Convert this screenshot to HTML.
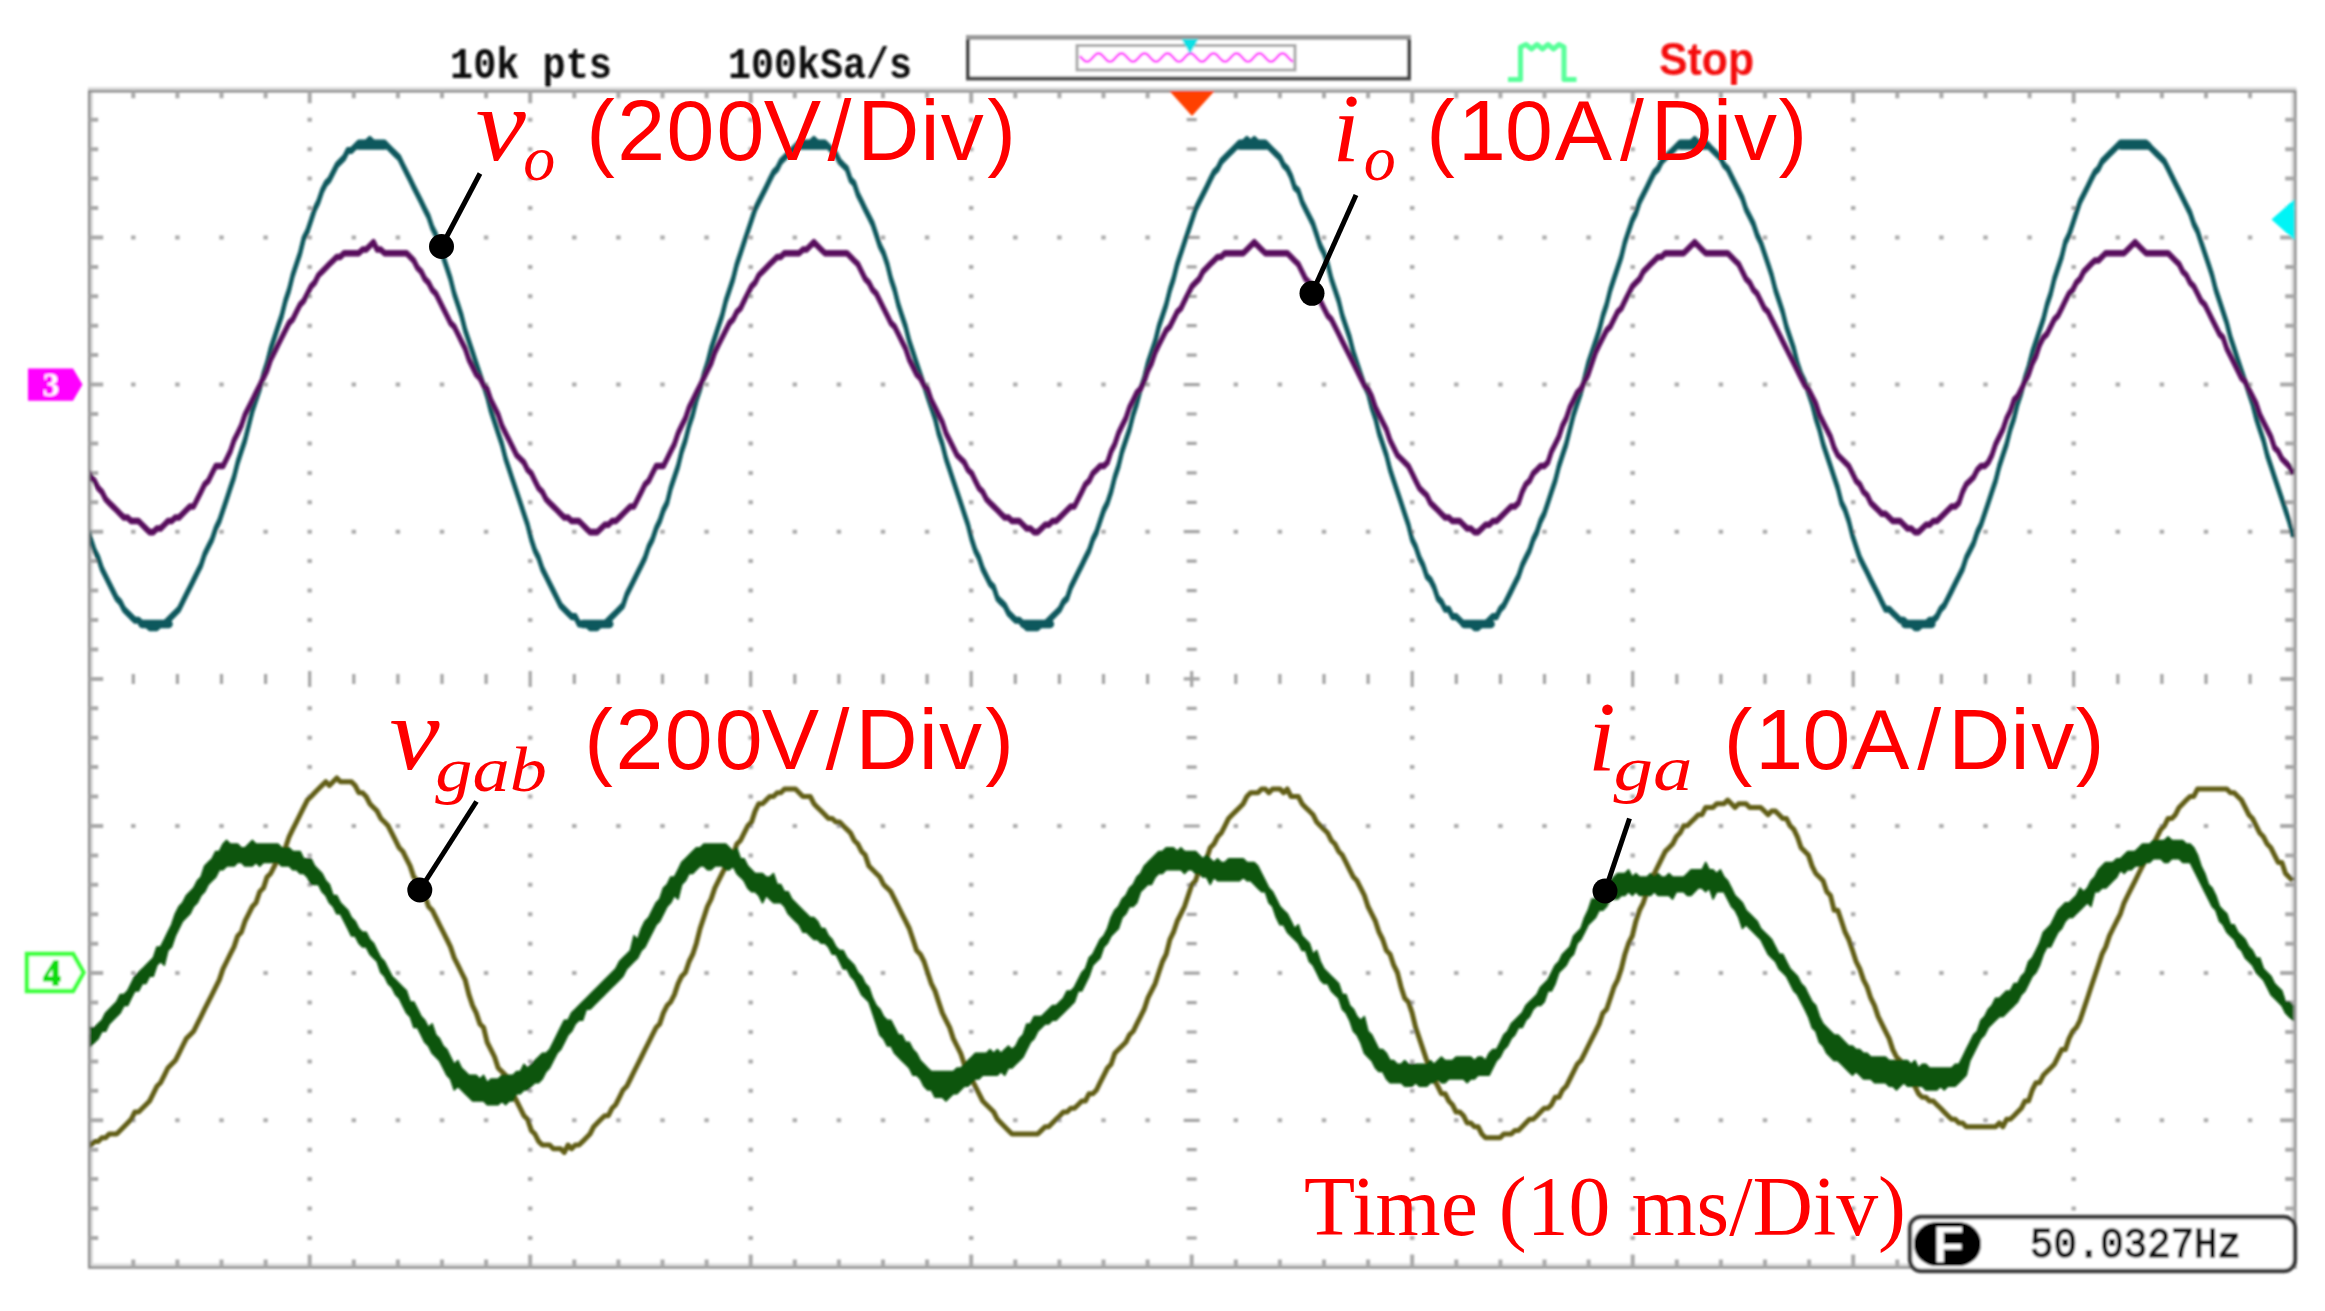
<!DOCTYPE html>
<html><head><meta charset="utf-8"><title>Scope capture</title>
<style>html,body{margin:0;padding:0;background:#fff}svg{display:block}.sans{font-family:"Liberation Sans",sans-serif}.ser{font-family:"Liberation Serif",serif}.mono{font-family:"Liberation Mono",monospace}</style></head><body>
<svg width="2325" height="1311" viewBox="0 0 2325 1311">
<defs><clipPath id="plot"><rect x="90.2" y="91.3" width="2204" height="1176.1"/></clipPath><filter id="soft" x="0" y="0" width="100%" height="100%" filterUnits="userSpaceOnUse"><feGaussianBlur stdDeviation="0.9"/></filter></defs>
<rect width="100%" height="100%" fill="#fff"/>
<g id="scope" filter="url(#soft)">
<g id="grid"><path d="M91.6 91.3V1267.5M2292.8 91.3V1267.5M89.2 1264.8H2295.3M88 88.6H2296.5" fill="none" stroke="#dadada" stroke-width="2.8"/>
<rect x="89.2" y="91.3" width="2206.1" height="1176.2" fill="none" stroke="#8d8d8d" stroke-width="2.5"/>
<path d="M133.3 91.3v7M133.3 1267.4v-8M177.4 91.3v7M177.4 1267.4v-8M221.5 91.3v7M221.5 1267.4v-8M265.6 91.3v7M265.6 1267.4v-8M309.7 91.3v12M309.7 1267.4v-13M353.8 91.3v7M353.8 1267.4v-8M397.9 91.3v7M397.9 1267.4v-8M442 91.3v7M442 1267.4v-8M486.1 91.3v7M486.1 1267.4v-8M530.2 91.3v12M530.2 1267.4v-13M574.3 91.3v7M574.3 1267.4v-8M618.4 91.3v7M618.4 1267.4v-8M662.5 91.3v7M662.5 1267.4v-8M706.6 91.3v7M706.6 1267.4v-8M750.7 91.3v12M750.7 1267.4v-13M794.8 91.3v7M794.8 1267.4v-8M838.9 91.3v7M838.9 1267.4v-8M883 91.3v7M883 1267.4v-8M927.1 91.3v7M927.1 1267.4v-8M971.2 91.3v12M971.2 1267.4v-13M1015.3 91.3v7M1015.3 1267.4v-8M1059.4 91.3v7M1059.4 1267.4v-8M1103.5 91.3v7M1103.5 1267.4v-8M1147.6 91.3v7M1147.6 1267.4v-8M1191.7 91.3v12M1191.7 1267.4v-13M1235.8 91.3v7M1235.8 1267.4v-8M1279.9 91.3v7M1279.9 1267.4v-8M1324 91.3v7M1324 1267.4v-8M1368.1 91.3v7M1368.1 1267.4v-8M1412.2 91.3v12M1412.2 1267.4v-13M1456.3 91.3v7M1456.3 1267.4v-8M1500.4 91.3v7M1500.4 1267.4v-8M1544.5 91.3v7M1544.5 1267.4v-8M1588.6 91.3v7M1588.6 1267.4v-8M1632.7 91.3v12M1632.7 1267.4v-13M1676.8 91.3v7M1676.8 1267.4v-8M1720.9 91.3v7M1720.9 1267.4v-8M1765 91.3v7M1765 1267.4v-8M1809.1 91.3v7M1809.1 1267.4v-8M1853.2 91.3v12M1853.2 1267.4v-13M1897.3 91.3v7M1897.3 1267.4v-8M1941.4 91.3v7M1941.4 1267.4v-8M1985.5 91.3v7M1985.5 1267.4v-8M2029.6 91.3v7M2029.6 1267.4v-8M2073.7 91.3v12M2073.7 1267.4v-13M2117.8 91.3v7M2117.8 1267.4v-8M2161.9 91.3v7M2161.9 1267.4v-8M2206 91.3v7M2206 1267.4v-8M2250.1 91.3v7M2250.1 1267.4v-8M89.2 119.7h9M2295.2 119.7h-10M89.2 149.2h9M2295.2 149.2h-10M89.2 178.6h9M2295.2 178.6h-10M89.2 208h9M2295.2 208h-10M89.2 237.4h14M2295.2 237.4h-15M89.2 266.9h9M2295.2 266.9h-10M89.2 296.3h9M2295.2 296.3h-10M89.2 325.7h9M2295.2 325.7h-10M89.2 355.1h9M2295.2 355.1h-10M89.2 384.6h14M2295.2 384.6h-15M89.2 414h9M2295.2 414h-10M89.2 443.4h9M2295.2 443.4h-10M89.2 472.9h9M2295.2 472.9h-10M89.2 502.3h9M2295.2 502.3h-10M89.2 531.7h14M2295.2 531.7h-15M89.2 561.1h9M2295.2 561.1h-10M89.2 590.6h9M2295.2 590.6h-10M89.2 620h9M2295.2 620h-10M89.2 649.4h9M2295.2 649.4h-10M89.2 678.9h14M2295.2 678.9h-15M89.2 708.3h9M2295.2 708.3h-10M89.2 737.7h9M2295.2 737.7h-10M89.2 767.1h9M2295.2 767.1h-10M89.2 796.6h9M2295.2 796.6h-10M89.2 826h14M2295.2 826h-15M89.2 855.4h9M2295.2 855.4h-10M89.2 884.8h9M2295.2 884.8h-10M89.2 914.3h9M2295.2 914.3h-10M89.2 943.7h9M2295.2 943.7h-10M89.2 973.1h14M2295.2 973.1h-15M89.2 1002.6h9M2295.2 1002.6h-10M89.2 1032h9M2295.2 1032h-10M89.2 1061.4h9M2295.2 1061.4h-10M89.2 1090.8h9M2295.2 1090.8h-10M89.2 1120.3h14M2295.2 1120.3h-15M89.2 1149.7h9M2295.2 1149.7h-10M89.2 1179.1h9M2295.2 1179.1h-10M89.2 1208.5h9M2295.2 1208.5h-10M89.2 1238h9M2295.2 1238h-10" stroke="#a9a9a9" stroke-width="4" fill="none"/>
<path d="M307.5 119.7h4.4M307.5 149.2h4.4M307.5 178.6h4.4M307.5 208h4.4M307.5 237.4h4.4M307.5 266.9h4.4M307.5 296.3h4.4M307.5 325.7h4.4M307.5 355.1h4.4M307.5 384.6h4.4M307.5 414h4.4M307.5 443.4h4.4M307.5 472.9h4.4M307.5 502.3h4.4M307.5 531.7h4.4M307.5 561.1h4.4M307.5 590.6h4.4M307.5 620h4.4M307.5 649.4h4.4M307.5 708.3h4.4M307.5 737.7h4.4M307.5 767.1h4.4M307.5 796.6h4.4M307.5 826h4.4M307.5 855.4h4.4M307.5 884.8h4.4M307.5 914.3h4.4M307.5 943.7h4.4M307.5 973.1h4.4M307.5 1002.6h4.4M307.5 1032h4.4M307.5 1061.4h4.4M307.5 1090.8h4.4M307.5 1120.3h4.4M307.5 1149.7h4.4M307.5 1179.1h4.4M307.5 1208.5h4.4M307.5 1238h4.4M528 119.7h4.4M528 149.2h4.4M528 178.6h4.4M528 208h4.4M528 237.4h4.4M528 266.9h4.4M528 296.3h4.4M528 325.7h4.4M528 355.1h4.4M528 384.6h4.4M528 414h4.4M528 443.4h4.4M528 472.9h4.4M528 502.3h4.4M528 531.7h4.4M528 561.1h4.4M528 590.6h4.4M528 620h4.4M528 649.4h4.4M528 708.3h4.4M528 737.7h4.4M528 767.1h4.4M528 796.6h4.4M528 826h4.4M528 855.4h4.4M528 884.8h4.4M528 914.3h4.4M528 943.7h4.4M528 973.1h4.4M528 1002.6h4.4M528 1032h4.4M528 1061.4h4.4M528 1090.8h4.4M528 1120.3h4.4M528 1149.7h4.4M528 1179.1h4.4M528 1208.5h4.4M528 1238h4.4M748.5 119.7h4.4M748.5 149.2h4.4M748.5 178.6h4.4M748.5 208h4.4M748.5 237.4h4.4M748.5 266.9h4.4M748.5 296.3h4.4M748.5 325.7h4.4M748.5 355.1h4.4M748.5 384.6h4.4M748.5 414h4.4M748.5 443.4h4.4M748.5 472.9h4.4M748.5 502.3h4.4M748.5 531.7h4.4M748.5 561.1h4.4M748.5 590.6h4.4M748.5 620h4.4M748.5 649.4h4.4M748.5 708.3h4.4M748.5 737.7h4.4M748.5 767.1h4.4M748.5 796.6h4.4M748.5 826h4.4M748.5 855.4h4.4M748.5 884.8h4.4M748.5 914.3h4.4M748.5 943.7h4.4M748.5 973.1h4.4M748.5 1002.6h4.4M748.5 1032h4.4M748.5 1061.4h4.4M748.5 1090.8h4.4M748.5 1120.3h4.4M748.5 1149.7h4.4M748.5 1179.1h4.4M748.5 1208.5h4.4M748.5 1238h4.4M969 119.7h4.4M969 149.2h4.4M969 178.6h4.4M969 208h4.4M969 237.4h4.4M969 266.9h4.4M969 296.3h4.4M969 325.7h4.4M969 355.1h4.4M969 384.6h4.4M969 414h4.4M969 443.4h4.4M969 472.9h4.4M969 502.3h4.4M969 531.7h4.4M969 561.1h4.4M969 590.6h4.4M969 620h4.4M969 649.4h4.4M969 708.3h4.4M969 737.7h4.4M969 767.1h4.4M969 796.6h4.4M969 826h4.4M969 855.4h4.4M969 884.8h4.4M969 914.3h4.4M969 943.7h4.4M969 973.1h4.4M969 1002.6h4.4M969 1032h4.4M969 1061.4h4.4M969 1090.8h4.4M969 1120.3h4.4M969 1149.7h4.4M969 1179.1h4.4M969 1208.5h4.4M969 1238h4.4M1410 119.7h4.4M1410 149.2h4.4M1410 178.6h4.4M1410 208h4.4M1410 237.4h4.4M1410 266.9h4.4M1410 296.3h4.4M1410 325.7h4.4M1410 355.1h4.4M1410 384.6h4.4M1410 414h4.4M1410 443.4h4.4M1410 472.9h4.4M1410 502.3h4.4M1410 531.7h4.4M1410 561.1h4.4M1410 590.6h4.4M1410 620h4.4M1410 649.4h4.4M1410 708.3h4.4M1410 737.7h4.4M1410 767.1h4.4M1410 796.6h4.4M1410 826h4.4M1410 855.4h4.4M1410 884.8h4.4M1410 914.3h4.4M1410 943.7h4.4M1410 973.1h4.4M1410 1002.6h4.4M1410 1032h4.4M1410 1061.4h4.4M1410 1090.8h4.4M1410 1120.3h4.4M1410 1149.7h4.4M1410 1179.1h4.4M1410 1208.5h4.4M1410 1238h4.4M1630.5 119.7h4.4M1630.5 149.2h4.4M1630.5 178.6h4.4M1630.5 208h4.4M1630.5 237.4h4.4M1630.5 266.9h4.4M1630.5 296.3h4.4M1630.5 325.7h4.4M1630.5 355.1h4.4M1630.5 384.6h4.4M1630.5 414h4.4M1630.5 443.4h4.4M1630.5 472.9h4.4M1630.5 502.3h4.4M1630.5 531.7h4.4M1630.5 561.1h4.4M1630.5 590.6h4.4M1630.5 620h4.4M1630.5 649.4h4.4M1630.5 708.3h4.4M1630.5 737.7h4.4M1630.5 767.1h4.4M1630.5 796.6h4.4M1630.5 826h4.4M1630.5 855.4h4.4M1630.5 884.8h4.4M1630.5 914.3h4.4M1630.5 943.7h4.4M1630.5 973.1h4.4M1630.5 1002.6h4.4M1630.5 1032h4.4M1630.5 1061.4h4.4M1630.5 1090.8h4.4M1630.5 1120.3h4.4M1630.5 1149.7h4.4M1630.5 1179.1h4.4M1630.5 1208.5h4.4M1630.5 1238h4.4M1851 119.7h4.4M1851 149.2h4.4M1851 178.6h4.4M1851 208h4.4M1851 237.4h4.4M1851 266.9h4.4M1851 296.3h4.4M1851 325.7h4.4M1851 355.1h4.4M1851 384.6h4.4M1851 414h4.4M1851 443.4h4.4M1851 472.9h4.4M1851 502.3h4.4M1851 531.7h4.4M1851 561.1h4.4M1851 590.6h4.4M1851 620h4.4M1851 649.4h4.4M1851 708.3h4.4M1851 737.7h4.4M1851 767.1h4.4M1851 796.6h4.4M1851 826h4.4M1851 855.4h4.4M1851 884.8h4.4M1851 914.3h4.4M1851 943.7h4.4M1851 973.1h4.4M1851 1002.6h4.4M1851 1032h4.4M1851 1061.4h4.4M1851 1090.8h4.4M1851 1120.3h4.4M1851 1149.7h4.4M1851 1179.1h4.4M1851 1208.5h4.4M1851 1238h4.4M2071.5 119.7h4.4M2071.5 149.2h4.4M2071.5 178.6h4.4M2071.5 208h4.4M2071.5 237.4h4.4M2071.5 266.9h4.4M2071.5 296.3h4.4M2071.5 325.7h4.4M2071.5 355.1h4.4M2071.5 384.6h4.4M2071.5 414h4.4M2071.5 443.4h4.4M2071.5 472.9h4.4M2071.5 502.3h4.4M2071.5 531.7h4.4M2071.5 561.1h4.4M2071.5 590.6h4.4M2071.5 620h4.4M2071.5 649.4h4.4M2071.5 708.3h4.4M2071.5 737.7h4.4M2071.5 767.1h4.4M2071.5 796.6h4.4M2071.5 826h4.4M2071.5 855.4h4.4M2071.5 884.8h4.4M2071.5 914.3h4.4M2071.5 943.7h4.4M2071.5 973.1h4.4M2071.5 1002.6h4.4M2071.5 1032h4.4M2071.5 1061.4h4.4M2071.5 1090.8h4.4M2071.5 1120.3h4.4M2071.5 1149.7h4.4M2071.5 1179.1h4.4M2071.5 1208.5h4.4M2071.5 1238h4.4M131.1 237.4h4.4M175.2 237.4h4.4M219.3 237.4h4.4M263.4 237.4h4.4M351.6 237.4h4.4M395.7 237.4h4.4M439.8 237.4h4.4M483.9 237.4h4.4M572.1 237.4h4.4M616.2 237.4h4.4M660.3 237.4h4.4M704.4 237.4h4.4M792.6 237.4h4.4M836.7 237.4h4.4M880.8 237.4h4.4M924.9 237.4h4.4M1013.1 237.4h4.4M1057.2 237.4h4.4M1101.3 237.4h4.4M1145.4 237.4h4.4M1233.6 237.4h4.4M1277.7 237.4h4.4M1321.8 237.4h4.4M1365.9 237.4h4.4M1454.1 237.4h4.4M1498.2 237.4h4.4M1542.3 237.4h4.4M1586.4 237.4h4.4M1674.6 237.4h4.4M1718.7 237.4h4.4M1762.8 237.4h4.4M1806.9 237.4h4.4M1895.1 237.4h4.4M1939.2 237.4h4.4M1983.3 237.4h4.4M2027.4 237.4h4.4M2115.6 237.4h4.4M2159.7 237.4h4.4M2203.8 237.4h4.4M2247.9 237.4h4.4M131.1 384.6h4.4M175.2 384.6h4.4M219.3 384.6h4.4M263.4 384.6h4.4M351.6 384.6h4.4M395.7 384.6h4.4M439.8 384.6h4.4M483.9 384.6h4.4M572.1 384.6h4.4M616.2 384.6h4.4M660.3 384.6h4.4M704.4 384.6h4.4M792.6 384.6h4.4M836.7 384.6h4.4M880.8 384.6h4.4M924.9 384.6h4.4M1013.1 384.6h4.4M1057.2 384.6h4.4M1101.3 384.6h4.4M1145.4 384.6h4.4M1233.6 384.6h4.4M1277.7 384.6h4.4M1321.8 384.6h4.4M1365.9 384.6h4.4M1454.1 384.6h4.4M1498.2 384.6h4.4M1542.3 384.6h4.4M1586.4 384.6h4.4M1674.6 384.6h4.4M1718.7 384.6h4.4M1762.8 384.6h4.4M1806.9 384.6h4.4M1895.1 384.6h4.4M1939.2 384.6h4.4M1983.3 384.6h4.4M2027.4 384.6h4.4M2115.6 384.6h4.4M2159.7 384.6h4.4M2203.8 384.6h4.4M2247.9 384.6h4.4M131.1 531.7h4.4M175.2 531.7h4.4M219.3 531.7h4.4M263.4 531.7h4.4M351.6 531.7h4.4M395.7 531.7h4.4M439.8 531.7h4.4M483.9 531.7h4.4M572.1 531.7h4.4M616.2 531.7h4.4M660.3 531.7h4.4M704.4 531.7h4.4M792.6 531.7h4.4M836.7 531.7h4.4M880.8 531.7h4.4M924.9 531.7h4.4M1013.1 531.7h4.4M1057.2 531.7h4.4M1101.3 531.7h4.4M1145.4 531.7h4.4M1233.6 531.7h4.4M1277.7 531.7h4.4M1321.8 531.7h4.4M1365.9 531.7h4.4M1454.1 531.7h4.4M1498.2 531.7h4.4M1542.3 531.7h4.4M1586.4 531.7h4.4M1674.6 531.7h4.4M1718.7 531.7h4.4M1762.8 531.7h4.4M1806.9 531.7h4.4M1895.1 531.7h4.4M1939.2 531.7h4.4M1983.3 531.7h4.4M2027.4 531.7h4.4M2115.6 531.7h4.4M2159.7 531.7h4.4M2203.8 531.7h4.4M2247.9 531.7h4.4M131.1 826h4.4M175.2 826h4.4M219.3 826h4.4M263.4 826h4.4M351.6 826h4.4M395.7 826h4.4M439.8 826h4.4M483.9 826h4.4M572.1 826h4.4M616.2 826h4.4M660.3 826h4.4M704.4 826h4.4M792.6 826h4.4M836.7 826h4.4M880.8 826h4.4M924.9 826h4.4M1013.1 826h4.4M1057.2 826h4.4M1101.3 826h4.4M1145.4 826h4.4M1233.6 826h4.4M1277.7 826h4.4M1321.8 826h4.4M1365.9 826h4.4M1454.1 826h4.4M1498.2 826h4.4M1542.3 826h4.4M1586.4 826h4.4M1674.6 826h4.4M1718.7 826h4.4M1762.8 826h4.4M1806.9 826h4.4M1895.1 826h4.4M1939.2 826h4.4M1983.3 826h4.4M2027.4 826h4.4M2115.6 826h4.4M2159.7 826h4.4M2203.8 826h4.4M2247.9 826h4.4M131.1 973.1h4.4M175.2 973.1h4.4M219.3 973.1h4.4M263.4 973.1h4.4M351.6 973.1h4.4M395.7 973.1h4.4M439.8 973.1h4.4M483.9 973.1h4.4M572.1 973.1h4.4M616.2 973.1h4.4M660.3 973.1h4.4M704.4 973.1h4.4M792.6 973.1h4.4M836.7 973.1h4.4M880.8 973.1h4.4M924.9 973.1h4.4M1013.1 973.1h4.4M1057.2 973.1h4.4M1101.3 973.1h4.4M1145.4 973.1h4.4M1233.6 973.1h4.4M1277.7 973.1h4.4M1321.8 973.1h4.4M1365.9 973.1h4.4M1454.1 973.1h4.4M1498.2 973.1h4.4M1542.3 973.1h4.4M1586.4 973.1h4.4M1674.6 973.1h4.4M1718.7 973.1h4.4M1762.8 973.1h4.4M1806.9 973.1h4.4M1895.1 973.1h4.4M1939.2 973.1h4.4M1983.3 973.1h4.4M2027.4 973.1h4.4M2115.6 973.1h4.4M2159.7 973.1h4.4M2203.8 973.1h4.4M2247.9 973.1h4.4M131.1 1120.3h4.4M175.2 1120.3h4.4M219.3 1120.3h4.4M263.4 1120.3h4.4M351.6 1120.3h4.4M395.7 1120.3h4.4M439.8 1120.3h4.4M483.9 1120.3h4.4M572.1 1120.3h4.4M616.2 1120.3h4.4M660.3 1120.3h4.4M704.4 1120.3h4.4M792.6 1120.3h4.4M836.7 1120.3h4.4M880.8 1120.3h4.4M924.9 1120.3h4.4M1013.1 1120.3h4.4M1057.2 1120.3h4.4M1101.3 1120.3h4.4M1145.4 1120.3h4.4M1233.6 1120.3h4.4M1277.7 1120.3h4.4M1321.8 1120.3h4.4M1365.9 1120.3h4.4M1454.1 1120.3h4.4M1498.2 1120.3h4.4M1542.3 1120.3h4.4M1586.4 1120.3h4.4M1674.6 1120.3h4.4M1718.7 1120.3h4.4M1762.8 1120.3h4.4M1806.9 1120.3h4.4M1895.1 1120.3h4.4M1939.2 1120.3h4.4M1983.3 1120.3h4.4M2027.4 1120.3h4.4M2115.6 1120.3h4.4M2159.7 1120.3h4.4M2203.8 1120.3h4.4M2247.9 1120.3h4.4" stroke="#aaaaaa" stroke-width="4" fill="none"/>
<path d="M1186.7 119.7h10M1186.7 149.2h10M1186.7 178.6h10M1186.7 208h10M1183.7 237.4h16M1186.7 266.9h10M1186.7 296.3h10M1186.7 325.7h10M1186.7 355.1h10M1183.7 384.6h16M1186.7 414h10M1186.7 443.4h10M1186.7 472.9h10M1186.7 502.3h10M1183.7 531.7h16M1186.7 561.1h10M1186.7 590.6h10M1186.7 620h10M1186.7 649.4h10M1183.7 678.9h16M1186.7 708.3h10M1186.7 737.7h10M1186.7 767.1h10M1186.7 796.6h10M1183.7 826h16M1186.7 855.4h10M1186.7 884.8h10M1186.7 914.3h10M1186.7 943.7h10M1183.7 973.1h16M1186.7 1002.6h10M1186.7 1032h10M1186.7 1061.4h10M1186.7 1090.8h10M1183.7 1120.3h16M1186.7 1149.7h10M1186.7 1179.1h10M1186.7 1208.5h10M1186.7 1238h10M133.3 673.9v10M177.4 673.9v10M221.5 673.9v10M265.6 673.9v10M309.7 670.9v16M353.8 673.9v10M397.9 673.9v10M442 673.9v10M486.1 673.9v10M530.2 670.9v16M574.3 673.9v10M618.4 673.9v10M662.5 673.9v10M706.6 673.9v10M750.7 670.9v16M794.8 673.9v10M838.9 673.9v10M883 673.9v10M927.1 673.9v10M971.2 670.9v16M1015.3 673.9v10M1059.4 673.9v10M1103.5 673.9v10M1147.6 673.9v10M1191.7 670.9v16M1235.8 673.9v10M1279.9 673.9v10M1324 673.9v10M1368.1 673.9v10M1412.2 670.9v16M1456.3 673.9v10M1500.4 673.9v10M1544.5 673.9v10M1588.6 673.9v10M1632.7 670.9v16M1676.8 673.9v10M1720.9 673.9v10M1765 673.9v10M1809.1 673.9v10M1853.2 670.9v16M1897.3 673.9v10M1941.4 673.9v10M1985.5 673.9v10M2029.6 673.9v10M2073.7 670.9v16M2117.8 673.9v10M2161.9 673.9v10M2206 673.9v10M2250.1 673.9v10" stroke="#a4a4a4" stroke-width="3.2" fill="none"/></g>
<g id="waves" clip-path="url(#plot)"><g fill="none" stroke="#0b585d" stroke-width="3.7" stroke-linejoin="round"><path d="M87.2 528.5 90.9 539.5 94.5 550.5 98.2 557.8 101.9 568.9 105.6 576.2 109.2 583.5 112.9 590.9 116.6 598.2 120.2 601.9 123.9 609.2 127.6 612.9 131.2 616.6 134.9 620.2 138.6 620.2 142.3 623.9 145.9 623.9 149.6 627.6 153.3 627.6 156.9 627.6 160.6 623.9 164.3 623.9 167.9 620.2 171.6 616.6 175.3 612.9 179 609.2 182.6 601.9 186.3 594.5 190 587.2 193.6 579.9 197.3 572.5 201 565.2 204.6 554.2 208.3 546.8 212 539.5 215.7 528.5 219.3 521.1 223 510.1 226.7 499.1 230.3 488.1 234 477.1 237.7 462.4 241.3 451.4 245 440.4 248.7 425.7 252.4 411 256 400 259.7 389 263.4 374.3 267 363.3 270.7 348.6 274.4 337.6 278 326.6 281.7 315.6 285.4 300.9 289.1 289.9 292.7 275.2 296.4 264.2 300.1 253.2 303.7 238.5 307.4 231.2 311.1 220.2 314.7 209.2 318.4 201.8 322.1 190.8 325.8 183.5 329.4 179.8 333.1 172.5 336.8 165.2 340.4 161.5 344.1 157.8 347.8 150.5 351.4 150.5 355.1 146.8 358.8 143.1 362.5 143.1 366.1 143.1 369.8 139.5 373.5 143.1 377.1 143.1 380.8 143.1 384.5 143.1 388.1 146.8 391.8 150.5 395.5 154.1 399.2 157.8 402.8 165.2 406.5 172.5 410.2 179.8 413.8 187.2 417.5 194.5 421.2 201.8 424.8 209.2 428.5 216.5 432.2 227.5 435.9 234.9 439.5 245.9 443.2 256.9 446.9 267.9 450.5 278.9 454.2 293.6 457.9 304.6 461.5 315.6 465.2 330.3 468.9 341.3 472.6 352.3 476.2 363.3 479.9 374.3 483.6 385.3 487.2 396.4 490.9 411 494.6 422.1 498.2 433.1 501.9 444.1 505.6 458.8 509.3 469.8 512.9 480.8 516.6 491.8 520.3 502.8 523.9 513.8 527.6 524.8 531.3 539.5 534.9 550.5 538.6 557.8 542.3 568.9 546 576.2 549.6 583.5 553.3 590.9 557 598.2 560.6 605.5 564.3 609.2 568 612.9 571.6 616.6 575.3 616.6 579 623.9 582.7 623.9 586.3 623.9 590 627.6 593.7 627.6 597.3 627.6 601 623.9 604.7 623.9 608.3 620.2 612 616.6 615.7 612.9 619.4 609.2 623 605.5 626.7 594.5 630.4 587.2 634 579.9 637.7 572.5 641.4 565.2 645 557.8 648.7 546.8 652.4 539.5 656.1 528.5 659.7 521.1 663.4 510.1 667.1 502.8 670.7 488.1 674.4 477.1 678.1 466.1 681.7 451.4 685.4 440.4 689.1 425.7 692.8 414.7 696.4 400 700.1 389 703.8 374.3 707.4 363.3 711.1 348.6 714.8 337.6 718.4 326.6 722.1 315.6 725.8 300.9 729.5 289.9 733.1 278.9 736.8 264.2 740.5 253.2 744.1 242.2 747.8 231.2 751.5 220.2 755.1 209.2 758.8 201.8 762.5 194.5 766.2 187.2 769.8 179.8 773.5 172.5 777.2 168.8 780.8 161.5 784.5 157.8 788.2 154.1 791.8 150.5 795.5 146.8 799.2 143.1 802.9 143.1 806.5 143.1 810.2 143.1 813.9 139.5 817.5 143.1 821.2 143.1 824.9 143.1 828.5 146.8 832.2 150.5 835.9 154.1 839.6 161.5 843.2 165.2 846.9 168.8 850.6 179.8 854.2 183.5 857.9 194.5 861.6 201.8 865.2 209.2 868.9 216.5 872.6 223.9 876.3 234.9 879.9 245.9 883.6 253.2 887.3 264.2 890.9 278.9 894.6 289.9 898.3 304.6 901.9 315.6 905.6 326.6 909.3 341.3 913 352.3 916.6 363.3 920.3 374.3 924 385.3 927.6 396.4 931.3 407.4 935 418.4 938.6 433.1 942.3 444.1 946 458.8 949.7 469.8 953.3 480.8 957 491.8 960.7 502.8 964.3 513.8 968 524.8 971.7 539.5 975.3 550.5 979 557.8 982.7 568.9 986.4 576.2 990 583.5 993.7 587.2 997.4 598.2 1001 601.9 1004.7 605.5 1008.4 612.9 1012 616.6 1015.7 620.2 1019.4 620.2 1023.1 623.9 1026.7 627.6 1030.4 627.6 1034.1 627.6 1037.7 627.6 1041.4 623.9 1045.1 623.9 1048.7 620.2 1052.4 616.6 1056.1 612.9 1059.8 609.2 1063.4 601.9 1067.1 598.2 1070.8 587.2 1074.4 579.9 1078.1 572.5 1081.8 565.2 1085.4 557.8 1089.1 550.5 1092.8 539.5 1096.5 532.1 1100.1 521.1 1103.8 510.1 1107.5 502.8 1111.1 491.8 1114.8 477.1 1118.5 466.1 1122.1 451.4 1125.8 440.4 1129.5 429.4 1133.2 414.7 1136.8 403.7 1140.5 389 1144.2 378 1147.8 363.3 1151.5 352.3 1155.2 341.3 1158.8 326.6 1162.5 315.6 1166.2 304.6 1169.9 289.9 1173.5 278.9 1177.2 264.2 1180.9 253.2 1184.5 242.2 1188.2 231.2 1191.9 220.2 1195.5 209.2 1199.2 201.8 1202.9 194.5 1206.6 187.2 1210.2 179.8 1213.9 172.5 1217.6 168.8 1221.2 161.5 1224.9 157.8 1228.6 154.1 1232.2 150.5 1235.9 146.8 1239.6 143.1 1243.3 143.1 1246.9 139.5 1250.6 143.1 1254.3 139.5 1257.9 143.1 1261.6 143.1 1265.3 143.1 1268.9 146.8 1272.6 150.5 1276.3 154.1 1280 157.8 1283.6 165.2 1287.3 168.8 1291 176.2 1294.6 187.2 1298.3 190.8 1302 201.8 1305.6 209.2 1309.3 216.5 1313 223.9 1316.7 234.9 1320.3 245.9 1324 253.2 1327.7 264.2 1331.3 278.9 1335 289.9 1338.7 300.9 1342.3 315.6 1346 326.6 1349.7 337.6 1353.4 352.3 1357 363.3 1360.7 374.3 1364.4 385.3 1368 392.7 1371.7 407.4 1375.4 418.4 1379 433.1 1382.7 444.1 1386.4 455.1 1390.1 469.8 1393.7 480.8 1397.4 491.8 1401.1 502.8 1404.7 513.8 1408.4 524.8 1412.1 539.5 1415.7 546.8 1419.4 557.8 1423.1 565.2 1426.8 576.2 1430.4 579.9 1434.1 587.2 1437.8 598.2 1441.4 601.9 1445.1 609.2 1448.8 609.2 1452.4 616.6 1456.1 616.6 1459.8 620.2 1463.5 623.9 1467.1 623.9 1470.8 623.9 1474.5 627.6 1478.1 627.6 1481.8 623.9 1485.5 623.9 1489.1 620.2 1492.8 616.6 1496.5 616.6 1500.2 609.2 1503.8 605.5 1507.5 598.2 1511.2 590.9 1514.8 583.5 1518.5 576.2 1522.2 565.2 1525.8 557.8 1529.5 550.5 1533.2 539.5 1536.9 532.1 1540.5 521.1 1544.2 513.8 1547.9 502.8 1551.5 491.8 1555.2 480.8 1558.9 466.1 1562.5 455.1 1566.2 444.1 1569.9 429.4 1573.6 414.7 1577.2 403.7 1580.9 392.7 1584.6 378 1588.2 363.3 1591.9 352.3 1595.6 341.3 1599.2 330.3 1602.9 315.6 1606.6 304.6 1610.3 289.9 1613.9 278.9 1617.6 267.9 1621.3 256.9 1624.9 242.2 1628.6 231.2 1632.3 220.2 1635.9 212.9 1639.6 201.8 1643.3 194.5 1647 187.2 1650.6 179.8 1654.3 172.5 1658 168.8 1661.6 161.5 1665.3 157.8 1669 154.1 1672.6 150.5 1676.3 146.8 1680 143.1 1683.7 143.1 1687.3 143.1 1691 143.1 1694.7 139.5 1698.3 143.1 1702 143.1 1705.7 143.1 1709.3 146.8 1713 150.5 1716.7 154.1 1720.4 157.8 1724 165.2 1727.7 168.8 1731.4 176.2 1735 183.5 1738.7 190.8 1742.4 198.2 1746 209.2 1749.7 216.5 1753.4 223.9 1757.1 234.9 1760.7 242.2 1764.4 253.2 1768.1 264.2 1771.7 275.2 1775.4 289.9 1779.1 300.9 1782.7 311.9 1786.4 326.6 1790.1 337.6 1793.8 348.6 1797.4 363.3 1801.1 374.3 1804.8 381.7 1808.4 392.7 1812.1 403.7 1815.8 418.4 1819.4 429.4 1823.1 444.1 1826.8 455.1 1830.5 466.1 1834.1 477.1 1837.8 488.1 1841.5 502.8 1845.1 510.1 1848.8 521.1 1852.5 535.8 1856.1 546.8 1859.8 557.8 1863.5 565.2 1867.2 572.5 1870.8 579.9 1874.5 587.2 1878.2 594.5 1881.8 601.9 1885.5 609.2 1889.2 609.2 1892.8 612.9 1896.5 616.6 1900.2 620.2 1903.9 620.2 1907.5 623.9 1911.2 623.9 1914.9 627.6 1918.5 627.6 1922.2 623.9 1925.9 623.9 1929.5 620.2 1933.2 620.2 1936.9 616.6 1940.6 609.2 1944.2 605.5 1947.9 598.2 1951.6 590.9 1955.2 583.5 1958.9 576.2 1962.6 568.9 1966.2 557.8 1969.9 550.5 1973.6 543.2 1977.3 532.1 1980.9 524.8 1984.6 513.8 1988.3 502.8 1991.9 491.8 1995.6 480.8 1999.3 466.1 2002.9 455.1 2006.6 444.1 2010.3 429.4 2014 418.4 2017.6 403.7 2021.3 392.7 2025 378 2028.6 367 2032.3 352.3 2036 341.3 2039.6 330.3 2043.3 319.3 2047 304.6 2050.7 293.6 2054.3 278.9 2058 267.9 2061.7 256.9 2065.3 242.2 2069 234.9 2072.7 223.9 2076.3 212.9 2080 201.8 2083.7 194.5 2087.4 187.2 2091 179.8 2094.7 172.5 2098.4 168.8 2102 161.5 2105.7 157.8 2109.4 154.1 2113 150.5 2116.7 146.8 2120.4 143.1 2124.1 143.1 2127.7 143.1 2131.4 143.1 2135.1 143.1 2138.7 143.1 2142.4 143.1 2146.1 143.1 2149.7 146.8 2153.4 150.5 2157.1 154.1 2160.8 157.8 2164.4 161.5 2168.1 168.8 2171.8 176.2 2175.4 183.5 2179.1 190.8 2182.8 198.2 2186.4 205.5 2190.1 212.9 2193.8 223.9 2197.5 231.2 2201.1 242.2 2204.8 253.2 2208.5 264.2 2212.1 275.2 2215.8 289.9 2219.5 300.9 2223.1 311.9 2226.8 323 2230.5 337.6 2234.2 348.6 2237.8 359.7 2241.5 370.7 2245.2 381.7 2248.8 392.7 2252.5 403.7 2256.2 418.4 2259.8 429.4 2263.5 440.4 2267.2 455.1 2270.9 466.1 2274.5 477.1 2278.2 488.1 2281.9 499.1 2285.5 510.1 2289.2 521.1 2292.9 535.8"/><path d="M87.2 526.8 90.9 537.8 94.5 548.8 98.2 556.1 101.9 567.1 105.6 574.5 109.2 581.8 112.9 589.2 116.6 596.5 120.2 600.2 123.9 607.5 127.6 611.2 131.2 614.9 134.9 618.5 138.6 618.5 142.3 622.2 145.9 622.2 149.6 625.9 153.3 625.9 156.9 625.9 160.6 622.2 164.3 622.2 167.9 618.5 171.6 614.9 175.3 611.2 179 607.5 182.6 600.2 186.3 592.8 190 585.5 193.6 578.2 197.3 570.8 201 563.5 204.6 552.5 208.3 545.1 212 537.8 215.7 526.8 219.3 519.4 223 508.4 226.7 497.4 230.3 486.4 234 475.4 237.7 460.7 241.3 449.7 245 438.7 248.7 424 252.4 409.3 256 398.3 259.7 387.3 263.4 372.6 267 361.6 270.7 346.9 274.4 335.9 278 324.9 281.7 313.9 285.4 299.2 289.1 288.2 292.7 273.6 296.4 262.5 300.1 251.5 303.7 236.8 307.4 229.5 311.1 218.5 314.7 207.5 318.4 200.2 322.1 189.1 325.8 181.8 329.4 178.1 333.1 170.8 336.8 163.5 340.4 159.8 344.1 156.1 347.8 148.8 351.4 148.8 355.1 145.1 358.8 141.4 362.5 141.4 366.1 141.4 369.8 137.8 373.5 141.4 377.1 141.4 380.8 141.4 384.5 141.4 388.1 145.1 391.8 148.8 395.5 152.4 399.2 156.1 402.8 163.5 406.5 170.8 410.2 178.1 413.8 185.5 417.5 192.8 421.2 200.2 424.8 207.5 428.5 214.8 432.2 225.8 435.9 233.2 439.5 244.2 443.2 255.2 446.9 266.2 450.5 277.2 454.2 291.9 457.9 302.9 461.5 313.9 465.2 328.6 468.9 339.6 472.6 350.6 476.2 361.6 479.9 372.6 483.6 383.6 487.2 394.7 490.9 409.3 494.6 420.4 498.2 431.4 501.9 442.4 505.6 457.1 509.3 468.1 512.9 479.1 516.6 490.1 520.3 501.1 523.9 512.1 527.6 523.1 531.3 537.8 534.9 548.8 538.6 556.1 542.3 567.1 546 574.5 549.6 581.8 553.3 589.2 557 596.5 560.6 603.8 564.3 607.5 568 611.2 571.6 614.9 575.3 614.9 579 622.2 582.7 622.2 586.3 622.2 590 625.9 593.7 625.9 597.3 625.9 601 622.2 604.7 622.2 608.3 618.5 612 614.9 615.7 611.2 619.4 607.5 623 603.8 626.7 592.8 630.4 585.5 634 578.2 637.7 570.8 641.4 563.5 645 556.1 648.7 545.1 652.4 537.8 656.1 526.8 659.7 519.4 663.4 508.4 667.1 501.1 670.7 486.4 674.4 475.4 678.1 464.4 681.7 449.7 685.4 438.7 689.1 424 692.8 413 696.4 398.3 700.1 387.3 703.8 372.6 707.4 361.6 711.1 346.9 714.8 335.9 718.4 324.9 722.1 313.9 725.8 299.2 729.5 288.2 733.1 277.2 736.8 262.5 740.5 251.5 744.1 240.5 747.8 229.5 751.5 218.5 755.1 207.5 758.8 200.2 762.5 192.8 766.2 185.5 769.8 178.1 773.5 170.8 777.2 167.1 780.8 159.8 784.5 156.1 788.2 152.4 791.8 148.8 795.5 145.1 799.2 141.4 802.9 141.4 806.5 141.4 810.2 141.4 813.9 137.8 817.5 141.4 821.2 141.4 824.9 141.4 828.5 145.1 832.2 148.8 835.9 152.4 839.6 159.8 843.2 163.5 846.9 167.1 850.6 178.1 854.2 181.8 857.9 192.8 861.6 200.2 865.2 207.5 868.9 214.8 872.6 222.2 876.3 233.2 879.9 244.2 883.6 251.5 887.3 262.5 890.9 277.2 894.6 288.2 898.3 302.9 901.9 313.9 905.6 324.9 909.3 339.6 913 350.6 916.6 361.6 920.3 372.6 924 383.6 927.6 394.7 931.3 405.7 935 416.7 938.6 431.4 942.3 442.4 946 457.1 949.7 468.1 953.3 479.1 957 490.1 960.7 501.1 964.3 512.1 968 523.1 971.7 537.8 975.3 548.8 979 556.1 982.7 567.1 986.4 574.5 990 581.8 993.7 585.5 997.4 596.5 1001 600.2 1004.7 603.8 1008.4 611.2 1012 614.9 1015.7 618.5 1019.4 618.5 1023.1 622.2 1026.7 625.9 1030.4 625.9 1034.1 625.9 1037.7 625.9 1041.4 622.2 1045.1 622.2 1048.7 618.5 1052.4 614.9 1056.1 611.2 1059.8 607.5 1063.4 600.2 1067.1 596.5 1070.8 585.5 1074.4 578.2 1078.1 570.8 1081.8 563.5 1085.4 556.1 1089.1 548.8 1092.8 537.8 1096.5 530.4 1100.1 519.4 1103.8 508.4 1107.5 501.1 1111.1 490.1 1114.8 475.4 1118.5 464.4 1122.1 449.7 1125.8 438.7 1129.5 427.7 1133.2 413 1136.8 402 1140.5 387.3 1144.2 376.3 1147.8 361.6 1151.5 350.6 1155.2 339.6 1158.8 324.9 1162.5 313.9 1166.2 302.9 1169.9 288.2 1173.5 277.2 1177.2 262.5 1180.9 251.5 1184.5 240.5 1188.2 229.5 1191.9 218.5 1195.5 207.5 1199.2 200.2 1202.9 192.8 1206.6 185.5 1210.2 178.1 1213.9 170.8 1217.6 167.1 1221.2 159.8 1224.9 156.1 1228.6 152.4 1232.2 148.8 1235.9 145.1 1239.6 141.4 1243.3 141.4 1246.9 137.8 1250.6 141.4 1254.3 137.8 1257.9 141.4 1261.6 141.4 1265.3 141.4 1268.9 145.1 1272.6 148.8 1276.3 152.4 1280 156.1 1283.6 163.5 1287.3 167.1 1291 174.5 1294.6 185.5 1298.3 189.1 1302 200.2 1305.6 207.5 1309.3 214.8 1313 222.2 1316.7 233.2 1320.3 244.2 1324 251.5 1327.7 262.5 1331.3 277.2 1335 288.2 1338.7 299.2 1342.3 313.9 1346 324.9 1349.7 335.9 1353.4 350.6 1357 361.6 1360.7 372.6 1364.4 383.6 1368 391 1371.7 405.7 1375.4 416.7 1379 431.4 1382.7 442.4 1386.4 453.4 1390.1 468.1 1393.7 479.1 1397.4 490.1 1401.1 501.1 1404.7 512.1 1408.4 523.1 1412.1 537.8 1415.7 545.1 1419.4 556.1 1423.1 563.5 1426.8 574.5 1430.4 578.2 1434.1 585.5 1437.8 596.5 1441.4 600.2 1445.1 607.5 1448.8 607.5 1452.4 614.9 1456.1 614.9 1459.8 618.5 1463.5 622.2 1467.1 622.2 1470.8 622.2 1474.5 625.9 1478.1 625.9 1481.8 622.2 1485.5 622.2 1489.1 618.5 1492.8 614.9 1496.5 614.9 1500.2 607.5 1503.8 603.8 1507.5 596.5 1511.2 589.2 1514.8 581.8 1518.5 574.5 1522.2 563.5 1525.8 556.1 1529.5 548.8 1533.2 537.8 1536.9 530.4 1540.5 519.4 1544.2 512.1 1547.9 501.1 1551.5 490.1 1555.2 479.1 1558.9 464.4 1562.5 453.4 1566.2 442.4 1569.9 427.7 1573.6 413 1577.2 402 1580.9 391 1584.6 376.3 1588.2 361.6 1591.9 350.6 1595.6 339.6 1599.2 328.6 1602.9 313.9 1606.6 302.9 1610.3 288.2 1613.9 277.2 1617.6 266.2 1621.3 255.2 1624.9 240.5 1628.6 229.5 1632.3 218.5 1635.9 211.2 1639.6 200.2 1643.3 192.8 1647 185.5 1650.6 178.1 1654.3 170.8 1658 167.1 1661.6 159.8 1665.3 156.1 1669 152.4 1672.6 148.8 1676.3 145.1 1680 141.4 1683.7 141.4 1687.3 141.4 1691 141.4 1694.7 137.8 1698.3 141.4 1702 141.4 1705.7 141.4 1709.3 145.1 1713 148.8 1716.7 152.4 1720.4 156.1 1724 163.5 1727.7 167.1 1731.4 174.5 1735 181.8 1738.7 189.1 1742.4 196.5 1746 207.5 1749.7 214.8 1753.4 222.2 1757.1 233.2 1760.7 240.5 1764.4 251.5 1768.1 262.5 1771.7 273.6 1775.4 288.2 1779.1 299.2 1782.7 310.2 1786.4 324.9 1790.1 335.9 1793.8 346.9 1797.4 361.6 1801.1 372.6 1804.8 380 1808.4 391 1812.1 402 1815.8 416.7 1819.4 427.7 1823.1 442.4 1826.8 453.4 1830.5 464.4 1834.1 475.4 1837.8 486.4 1841.5 501.1 1845.1 508.4 1848.8 519.4 1852.5 534.1 1856.1 545.1 1859.8 556.1 1863.5 563.5 1867.2 570.8 1870.8 578.2 1874.5 585.5 1878.2 592.8 1881.8 600.2 1885.5 607.5 1889.2 607.5 1892.8 611.2 1896.5 614.9 1900.2 618.5 1903.9 618.5 1907.5 622.2 1911.2 622.2 1914.9 625.9 1918.5 625.9 1922.2 622.2 1925.9 622.2 1929.5 618.5 1933.2 618.5 1936.9 614.9 1940.6 607.5 1944.2 603.8 1947.9 596.5 1951.6 589.2 1955.2 581.8 1958.9 574.5 1962.6 567.1 1966.2 556.1 1969.9 548.8 1973.6 541.5 1977.3 530.4 1980.9 523.1 1984.6 512.1 1988.3 501.1 1991.9 490.1 1995.6 479.1 1999.3 464.4 2002.9 453.4 2006.6 442.4 2010.3 427.7 2014 416.7 2017.6 402 2021.3 391 2025 376.3 2028.6 365.3 2032.3 350.6 2036 339.6 2039.6 328.6 2043.3 317.6 2047 302.9 2050.7 291.9 2054.3 277.2 2058 266.2 2061.7 255.2 2065.3 240.5 2069 233.2 2072.7 222.2 2076.3 211.2 2080 200.2 2083.7 192.8 2087.4 185.5 2091 178.1 2094.7 170.8 2098.4 167.1 2102 159.8 2105.7 156.1 2109.4 152.4 2113 148.8 2116.7 145.1 2120.4 141.4 2124.1 141.4 2127.7 141.4 2131.4 141.4 2135.1 141.4 2138.7 141.4 2142.4 141.4 2146.1 141.4 2149.7 145.1 2153.4 148.8 2157.1 152.4 2160.8 156.1 2164.4 159.8 2168.1 167.1 2171.8 174.5 2175.4 181.8 2179.1 189.1 2182.8 196.5 2186.4 203.8 2190.1 211.2 2193.8 222.2 2197.5 229.5 2201.1 240.5 2204.8 251.5 2208.5 262.5 2212.1 273.6 2215.8 288.2 2219.5 299.2 2223.1 310.2 2226.8 321.3 2230.5 335.9 2234.2 346.9 2237.8 358 2241.5 369 2245.2 380 2248.8 391 2252.5 402 2256.2 416.7 2259.8 427.7 2263.5 438.7 2267.2 453.4 2270.9 464.4 2274.5 475.4 2278.2 486.4 2281.9 497.4 2285.5 508.4 2289.2 519.4 2292.9 534.1"/><path d="M87.2 530.2 90.9 541.2 94.5 552.2 98.2 559.5 101.9 570.6 105.6 577.9 109.2 585.2 112.9 592.6 116.6 599.9 120.2 603.6 123.9 610.9 127.6 614.6 131.2 618.3 134.9 621.9 138.6 621.9 142.3 625.6 145.9 625.6 149.6 629.3 153.3 629.3 156.9 629.3 160.6 625.6 164.3 625.6 167.9 621.9 171.6 618.3 175.3 614.6 179 610.9 182.6 603.6 186.3 596.2 190 588.9 193.6 581.6 197.3 574.2 201 566.9 204.6 555.9 208.3 548.5 212 541.2 215.7 530.2 219.3 522.8 223 511.8 226.7 500.8 230.3 489.8 234 478.8 237.7 464.1 241.3 453.1 245 442.1 248.7 427.4 252.4 412.7 256 401.7 259.7 390.7 263.4 376 267 365 270.7 350.3 274.4 339.3 278 328.3 281.7 317.3 285.4 302.6 289.1 291.6 292.7 276.9 296.4 265.9 300.1 254.9 303.7 240.2 307.4 232.9 311.1 221.9 314.7 210.9 318.4 203.5 322.1 192.5 325.8 185.2 329.4 181.5 333.1 174.2 336.8 166.8 340.4 163.2 344.1 159.5 347.8 152.2 351.4 152.2 355.1 148.5 358.8 144.8 362.5 144.8 366.1 144.8 369.8 141.2 373.5 144.8 377.1 144.8 380.8 144.8 384.5 144.8 388.1 148.5 391.8 152.2 395.5 155.8 399.2 159.5 402.8 166.8 406.5 174.2 410.2 181.5 413.8 188.9 417.5 196.2 421.2 203.5 424.8 210.9 428.5 218.2 432.2 229.2 435.9 236.6 439.5 247.6 443.2 258.6 446.9 269.6 450.5 280.6 454.2 295.3 457.9 306.3 461.5 317.3 465.2 332 468.9 343 472.6 354 476.2 365 479.9 376 483.6 387 487.2 398.1 490.9 412.7 494.6 423.8 498.2 434.8 501.9 445.8 505.6 460.4 509.3 471.5 512.9 482.5 516.6 493.5 520.3 504.5 523.9 515.5 527.6 526.5 531.3 541.2 534.9 552.2 538.6 559.5 542.3 570.6 546 577.9 549.6 585.2 553.3 592.6 557 599.9 560.6 607.2 564.3 610.9 568 614.6 571.6 618.3 575.3 618.3 579 625.6 582.7 625.6 586.3 625.6 590 629.3 593.7 629.3 597.3 629.3 601 625.6 604.7 625.6 608.3 621.9 612 618.3 615.7 614.6 619.4 610.9 623 607.2 626.7 596.2 630.4 588.9 634 581.6 637.7 574.2 641.4 566.9 645 559.5 648.7 548.5 652.4 541.2 656.1 530.2 659.7 522.8 663.4 511.8 667.1 504.5 670.7 489.8 674.4 478.8 678.1 467.8 681.7 453.1 685.4 442.1 689.1 427.4 692.8 416.4 696.4 401.7 700.1 390.7 703.8 376 707.4 365 711.1 350.3 714.8 339.3 718.4 328.3 722.1 317.3 725.8 302.6 729.5 291.6 733.1 280.6 736.8 265.9 740.5 254.9 744.1 243.9 747.8 232.9 751.5 221.9 755.1 210.9 758.8 203.5 762.5 196.2 766.2 188.9 769.8 181.5 773.5 174.2 777.2 170.5 780.8 163.2 784.5 159.5 788.2 155.8 791.8 152.2 795.5 148.5 799.2 144.8 802.9 144.8 806.5 144.8 810.2 144.8 813.9 141.2 817.5 144.8 821.2 144.8 824.9 144.8 828.5 148.5 832.2 152.2 835.9 155.8 839.6 163.2 843.2 166.8 846.9 170.5 850.6 181.5 854.2 185.2 857.9 196.2 861.6 203.5 865.2 210.9 868.9 218.2 872.6 225.6 876.3 236.6 879.9 247.6 883.6 254.9 887.3 265.9 890.9 280.6 894.6 291.6 898.3 306.3 901.9 317.3 905.6 328.3 909.3 343 913 354 916.6 365 920.3 376 924 387 927.6 398.1 931.3 409.1 935 420.1 938.6 434.8 942.3 445.8 946 460.4 949.7 471.5 953.3 482.5 957 493.5 960.7 504.5 964.3 515.5 968 526.5 971.7 541.2 975.3 552.2 979 559.5 982.7 570.6 986.4 577.9 990 585.2 993.7 588.9 997.4 599.9 1001 603.6 1004.7 607.2 1008.4 614.6 1012 618.3 1015.7 621.9 1019.4 621.9 1023.1 625.6 1026.7 629.3 1030.4 629.3 1034.1 629.3 1037.7 629.3 1041.4 625.6 1045.1 625.6 1048.7 621.9 1052.4 618.3 1056.1 614.6 1059.8 610.9 1063.4 603.6 1067.1 599.9 1070.8 588.9 1074.4 581.6 1078.1 574.2 1081.8 566.9 1085.4 559.5 1089.1 552.2 1092.8 541.2 1096.5 533.9 1100.1 522.8 1103.8 511.8 1107.5 504.5 1111.1 493.5 1114.8 478.8 1118.5 467.8 1122.1 453.1 1125.8 442.1 1129.5 431.1 1133.2 416.4 1136.8 405.4 1140.5 390.7 1144.2 379.7 1147.8 365 1151.5 354 1155.2 343 1158.8 328.3 1162.5 317.3 1166.2 306.3 1169.9 291.6 1173.5 280.6 1177.2 265.9 1180.9 254.9 1184.5 243.9 1188.2 232.9 1191.9 221.9 1195.5 210.9 1199.2 203.5 1202.9 196.2 1206.6 188.9 1210.2 181.5 1213.9 174.2 1217.6 170.5 1221.2 163.2 1224.9 159.5 1228.6 155.8 1232.2 152.2 1235.9 148.5 1239.6 144.8 1243.3 144.8 1246.9 141.2 1250.6 144.8 1254.3 141.2 1257.9 144.8 1261.6 144.8 1265.3 144.8 1268.9 148.5 1272.6 152.2 1276.3 155.8 1280 159.5 1283.6 166.8 1287.3 170.5 1291 177.9 1294.6 188.9 1298.3 192.5 1302 203.5 1305.6 210.9 1309.3 218.2 1313 225.6 1316.7 236.6 1320.3 247.6 1324 254.9 1327.7 265.9 1331.3 280.6 1335 291.6 1338.7 302.6 1342.3 317.3 1346 328.3 1349.7 339.3 1353.4 354 1357 365 1360.7 376 1364.4 387 1368 394.4 1371.7 409.1 1375.4 420.1 1379 434.8 1382.7 445.8 1386.4 456.8 1390.1 471.5 1393.7 482.5 1397.4 493.5 1401.1 504.5 1404.7 515.5 1408.4 526.5 1412.1 541.2 1415.7 548.5 1419.4 559.5 1423.1 566.9 1426.8 577.9 1430.4 581.6 1434.1 588.9 1437.8 599.9 1441.4 603.6 1445.1 610.9 1448.8 610.9 1452.4 618.3 1456.1 618.3 1459.8 621.9 1463.5 625.6 1467.1 625.6 1470.8 625.6 1474.5 629.3 1478.1 629.3 1481.8 625.6 1485.5 625.6 1489.1 621.9 1492.8 618.3 1496.5 618.3 1500.2 610.9 1503.8 607.2 1507.5 599.9 1511.2 592.6 1514.8 585.2 1518.5 577.9 1522.2 566.9 1525.8 559.5 1529.5 552.2 1533.2 541.2 1536.9 533.9 1540.5 522.8 1544.2 515.5 1547.9 504.5 1551.5 493.5 1555.2 482.5 1558.9 467.8 1562.5 456.8 1566.2 445.8 1569.9 431.1 1573.6 416.4 1577.2 405.4 1580.9 394.4 1584.6 379.7 1588.2 365 1591.9 354 1595.6 343 1599.2 332 1602.9 317.3 1606.6 306.3 1610.3 291.6 1613.9 280.6 1617.6 269.6 1621.3 258.6 1624.9 243.9 1628.6 232.9 1632.3 221.9 1635.9 214.6 1639.6 203.5 1643.3 196.2 1647 188.9 1650.6 181.5 1654.3 174.2 1658 170.5 1661.6 163.2 1665.3 159.5 1669 155.8 1672.6 152.2 1676.3 148.5 1680 144.8 1683.7 144.8 1687.3 144.8 1691 144.8 1694.7 141.2 1698.3 144.8 1702 144.8 1705.7 144.8 1709.3 148.5 1713 152.2 1716.7 155.8 1720.4 159.5 1724 166.8 1727.7 170.5 1731.4 177.9 1735 185.2 1738.7 192.5 1742.4 199.9 1746 210.9 1749.7 218.2 1753.4 225.6 1757.1 236.6 1760.7 243.9 1764.4 254.9 1768.1 265.9 1771.7 276.9 1775.4 291.6 1779.1 302.6 1782.7 313.6 1786.4 328.3 1790.1 339.3 1793.8 350.3 1797.4 365 1801.1 376 1804.8 383.4 1808.4 394.4 1812.1 405.4 1815.8 420.1 1819.4 431.1 1823.1 445.8 1826.8 456.8 1830.5 467.8 1834.1 478.8 1837.8 489.8 1841.5 504.5 1845.1 511.8 1848.8 522.8 1852.5 537.5 1856.1 548.5 1859.8 559.5 1863.5 566.9 1867.2 574.2 1870.8 581.6 1874.5 588.9 1878.2 596.2 1881.8 603.6 1885.5 610.9 1889.2 610.9 1892.8 614.6 1896.5 618.3 1900.2 621.9 1903.9 621.9 1907.5 625.6 1911.2 625.6 1914.9 629.3 1918.5 629.3 1922.2 625.6 1925.9 625.6 1929.5 621.9 1933.2 621.9 1936.9 618.3 1940.6 610.9 1944.2 607.2 1947.9 599.9 1951.6 592.6 1955.2 585.2 1958.9 577.9 1962.6 570.6 1966.2 559.5 1969.9 552.2 1973.6 544.9 1977.3 533.9 1980.9 526.5 1984.6 515.5 1988.3 504.5 1991.9 493.5 1995.6 482.5 1999.3 467.8 2002.9 456.8 2006.6 445.8 2010.3 431.1 2014 420.1 2017.6 405.4 2021.3 394.4 2025 379.7 2028.6 368.7 2032.3 354 2036 343 2039.6 332 2043.3 321 2047 306.3 2050.7 295.3 2054.3 280.6 2058 269.6 2061.7 258.6 2065.3 243.9 2069 236.6 2072.7 225.6 2076.3 214.6 2080 203.5 2083.7 196.2 2087.4 188.9 2091 181.5 2094.7 174.2 2098.4 170.5 2102 163.2 2105.7 159.5 2109.4 155.8 2113 152.2 2116.7 148.5 2120.4 144.8 2124.1 144.8 2127.7 144.8 2131.4 144.8 2135.1 144.8 2138.7 144.8 2142.4 144.8 2146.1 144.8 2149.7 148.5 2153.4 152.2 2157.1 155.8 2160.8 159.5 2164.4 163.2 2168.1 170.5 2171.8 177.9 2175.4 185.2 2179.1 192.5 2182.8 199.9 2186.4 207.2 2190.1 214.6 2193.8 225.6 2197.5 232.9 2201.1 243.9 2204.8 254.9 2208.5 265.9 2212.1 276.9 2215.8 291.6 2219.5 302.6 2223.1 313.6 2226.8 324.7 2230.5 339.3 2234.2 350.3 2237.8 361.4 2241.5 372.4 2245.2 383.4 2248.8 394.4 2252.5 405.4 2256.2 420.1 2259.8 431.1 2263.5 442.1 2267.2 456.8 2270.9 467.8 2274.5 478.8 2278.2 489.8 2281.9 500.8 2285.5 511.8 2289.2 522.8 2292.9 537.5"/></g>
<g fill="none" stroke="#580a5d" stroke-width="4.1" stroke-linejoin="round"><path d="M87.2 469.8 90.9 477.1 94.5 480.8 98.2 488.1 101.9 491.8 105.6 499.1 109.2 502.8 112.9 506.5 116.6 510.1 120.2 513.8 123.9 517.5 127.6 517.5 131.2 521.1 134.9 521.1 138.6 521.1 142.3 524.8 145.9 528.5 149.6 532.1 153.3 532.1 156.9 528.5 160.6 528.5 164.3 524.8 167.9 521.1 171.6 521.1 175.3 517.5 179 517.5 182.6 513.8 186.3 510.1 190 506.5 193.6 506.5 197.3 499.1 201 491.8 204.6 484.4 208.3 480.8 212 473.4 215.7 466.1 219.3 466.1 223 466.1 226.7 458.8 230.3 451.4 234 440.4 237.7 433.1 241.3 425.7 245 414.7 248.7 407.4 252.4 400 256 392.7 259.7 385.3 263.4 378 267 370.7 270.7 359.7 274.4 352.3 278 345 281.7 337.6 285.4 330.3 289.1 323 292.7 319.3 296.4 311.9 300.1 304.6 303.7 300.9 307.4 293.6 311.1 286.3 314.7 282.6 318.4 275.2 322.1 271.6 325.8 267.9 329.4 264.2 333.1 260.6 336.8 256.9 340.4 256.9 344.1 253.2 347.8 253.2 351.4 253.2 355.1 253.2 358.8 253.2 362.5 249.6 366.1 249.6 369.8 245.9 373.5 242.2 377.1 249.6 380.8 249.6 384.5 253.2 388.1 253.2 391.8 253.2 395.5 253.2 399.2 253.2 402.8 253.2 406.5 253.2 410.2 256.9 413.8 260.6 417.5 267.9 421.2 271.6 424.8 278.9 428.5 282.6 432.2 289.9 435.9 293.6 439.5 300.9 443.2 308.3 446.9 315.6 450.5 323 454.2 326.6 457.9 334 461.5 341.3 465.2 348.6 468.9 359.7 472.6 367 476.2 374.3 479.9 378 483.6 385.3 487.2 389 490.9 400 494.6 407.4 498.2 414.7 501.9 425.7 505.6 433.1 509.3 440.4 512.9 447.7 516.6 455.1 520.3 458.8 523.9 462.4 527.6 469.8 531.3 473.4 534.9 480.8 538.6 488.1 542.3 491.8 546 499.1 549.6 502.8 553.3 506.5 557 510.1 560.6 513.8 564.3 517.5 568 517.5 571.6 521.1 575.3 521.1 579 521.1 582.7 524.8 586.3 528.5 590 532.1 593.7 532.1 597.3 532.1 601 528.5 604.7 524.8 608.3 524.8 612 521.1 615.7 521.1 619.4 517.5 623 513.8 626.7 510.1 630.4 506.5 634 506.5 637.7 499.1 641.4 491.8 645 484.4 648.7 480.8 652.4 473.4 656.1 466.1 659.7 466.1 663.4 466.1 667.1 458.8 670.7 451.4 674.4 444.1 678.1 433.1 681.7 425.7 685.4 418.4 689.1 407.4 692.8 400 696.4 392.7 700.1 385.3 703.8 378 707.4 370.7 711.1 363.3 714.8 352.3 718.4 345 722.1 337.6 725.8 330.3 729.5 323 733.1 319.3 736.8 311.9 740.5 308.3 744.1 300.9 747.8 293.6 751.5 286.3 755.1 282.6 758.8 275.2 762.5 271.6 766.2 267.9 769.8 264.2 773.5 260.6 777.2 256.9 780.8 256.9 784.5 253.2 788.2 253.2 791.8 253.2 795.5 253.2 799.2 253.2 802.9 249.6 806.5 249.6 810.2 245.9 813.9 242.2 817.5 245.9 821.2 249.6 824.9 253.2 828.5 253.2 832.2 253.2 835.9 253.2 839.6 253.2 843.2 253.2 846.9 253.2 850.6 256.9 854.2 260.6 857.9 264.2 861.6 271.6 865.2 278.9 868.9 282.6 872.6 289.9 876.3 293.6 879.9 300.9 883.6 308.3 887.3 315.6 890.9 323 894.6 326.6 898.3 334 901.9 341.3 905.6 348.6 909.3 359.7 913 367 916.6 374.3 920.3 378 924 385.3 927.6 389 931.3 400 935 407.4 938.6 414.7 942.3 422.1 946 433.1 949.7 440.4 953.3 447.7 957 455.1 960.7 458.8 964.3 462.4 968 469.8 971.7 473.4 975.3 480.8 979 488.1 982.7 491.8 986.4 499.1 990 502.8 993.7 506.5 997.4 510.1 1001 513.8 1004.7 517.5 1008.4 517.5 1012 521.1 1015.7 521.1 1019.4 521.1 1023.1 524.8 1026.7 528.5 1030.4 528.5 1034.1 532.1 1037.7 532.1 1041.4 528.5 1045.1 524.8 1048.7 524.8 1052.4 521.1 1056.1 521.1 1059.8 517.5 1063.4 513.8 1067.1 510.1 1070.8 506.5 1074.4 506.5 1078.1 499.1 1081.8 491.8 1085.4 484.4 1089.1 480.8 1092.8 473.4 1096.5 469.8 1100.1 466.1 1103.8 466.1 1107.5 462.4 1111.1 451.4 1114.8 444.1 1118.5 433.1 1122.1 425.7 1125.8 418.4 1129.5 407.4 1133.2 400 1136.8 392.7 1140.5 389 1144.2 381.7 1147.8 370.7 1151.5 363.3 1155.2 352.3 1158.8 345 1162.5 337.6 1166.2 330.3 1169.9 326.6 1173.5 319.3 1177.2 311.9 1180.9 308.3 1184.5 300.9 1188.2 293.6 1191.9 286.3 1195.5 282.6 1199.2 278.9 1202.9 271.6 1206.6 267.9 1210.2 264.2 1213.9 260.6 1217.6 256.9 1221.2 256.9 1224.9 253.2 1228.6 253.2 1232.2 253.2 1235.9 253.2 1239.6 253.2 1243.3 253.2 1246.9 249.6 1250.6 245.9 1254.3 242.2 1257.9 245.9 1261.6 249.6 1265.3 253.2 1268.9 253.2 1272.6 253.2 1276.3 253.2 1280 253.2 1283.6 253.2 1287.3 253.2 1291 256.9 1294.6 260.6 1298.3 264.2 1302 271.6 1305.6 278.9 1309.3 282.6 1313 289.9 1316.7 293.6 1320.3 300.9 1324 308.3 1327.7 315.6 1331.3 319.3 1335 326.6 1338.7 334 1342.3 341.3 1346 348.6 1349.7 356 1353.4 363.3 1357 370.7 1360.7 378 1364.4 385.3 1368 389 1371.7 396.4 1375.4 407.4 1379 414.7 1382.7 422.1 1386.4 429.4 1390.1 440.4 1393.7 447.7 1397.4 455.1 1401.1 458.8 1404.7 462.4 1408.4 466.1 1412.1 473.4 1415.7 480.8 1419.4 488.1 1423.1 491.8 1426.8 495.4 1430.4 502.8 1434.1 506.5 1437.8 510.1 1441.4 513.8 1445.1 517.5 1448.8 517.5 1452.4 521.1 1456.1 521.1 1459.8 521.1 1463.5 524.8 1467.1 528.5 1470.8 528.5 1474.5 532.1 1478.1 532.1 1481.8 528.5 1485.5 524.8 1489.1 524.8 1492.8 521.1 1496.5 521.1 1500.2 517.5 1503.8 513.8 1507.5 510.1 1511.2 506.5 1514.8 506.5 1518.5 502.8 1522.2 491.8 1525.8 484.4 1529.5 480.8 1533.2 473.4 1536.9 469.8 1540.5 466.1 1544.2 466.1 1547.9 462.4 1551.5 451.4 1555.2 444.1 1558.9 436.7 1562.5 425.7 1566.2 418.4 1569.9 407.4 1573.6 400 1577.2 392.7 1580.9 389 1584.6 381.7 1588.2 374.3 1591.9 363.3 1595.6 352.3 1599.2 345 1602.9 337.6 1606.6 330.3 1610.3 326.6 1613.9 319.3 1617.6 311.9 1621.3 308.3 1624.9 300.9 1628.6 293.6 1632.3 286.3 1635.9 282.6 1639.6 278.9 1643.3 271.6 1647 267.9 1650.6 264.2 1654.3 260.6 1658 256.9 1661.6 256.9 1665.3 253.2 1669 253.2 1672.6 253.2 1676.3 253.2 1680 253.2 1683.7 253.2 1687.3 249.6 1691 245.9 1694.7 242.2 1698.3 245.9 1702 249.6 1705.7 253.2 1709.3 253.2 1713 253.2 1716.7 253.2 1720.4 253.2 1724 253.2 1727.7 253.2 1731.4 256.9 1735 260.6 1738.7 264.2 1742.4 271.6 1746 278.9 1749.7 282.6 1753.4 289.9 1757.1 293.6 1760.7 300.9 1764.4 308.3 1768.1 311.9 1771.7 319.3 1775.4 326.6 1779.1 334 1782.7 341.3 1786.4 348.6 1790.1 356 1793.8 363.3 1797.4 370.7 1801.1 378 1804.8 385.3 1808.4 389 1812.1 396.4 1815.8 403.7 1819.4 414.7 1823.1 422.1 1826.8 429.4 1830.5 436.7 1834.1 447.7 1837.8 455.1 1841.5 458.8 1845.1 462.4 1848.8 466.1 1852.5 473.4 1856.1 480.8 1859.8 484.4 1863.5 491.8 1867.2 495.4 1870.8 502.8 1874.5 506.5 1878.2 510.1 1881.8 513.8 1885.5 513.8 1889.2 517.5 1892.8 521.1 1896.5 521.1 1900.2 521.1 1903.9 524.8 1907.5 528.5 1911.2 528.5 1914.9 532.1 1918.5 532.1 1922.2 528.5 1925.9 524.8 1929.5 524.8 1933.2 521.1 1936.9 521.1 1940.6 517.5 1944.2 513.8 1947.9 510.1 1951.6 506.5 1955.2 506.5 1958.9 502.8 1962.6 491.8 1966.2 484.4 1969.9 480.8 1973.6 477.1 1977.3 469.8 1980.9 466.1 1984.6 466.1 1988.3 462.4 1991.9 455.1 1995.6 444.1 1999.3 436.7 2002.9 429.4 2006.6 418.4 2010.3 411 2014 400 2017.6 396.4 2021.3 389 2025 381.7 2028.6 374.3 2032.3 363.3 2036 356 2039.6 345 2043.3 337.6 2047 334 2050.7 326.6 2054.3 319.3 2058 315.6 2061.7 308.3 2065.3 300.9 2069 293.6 2072.7 289.9 2076.3 282.6 2080 278.9 2083.7 271.6 2087.4 267.9 2091 264.2 2094.7 260.6 2098.4 260.6 2102 256.9 2105.7 253.2 2109.4 253.2 2113 253.2 2116.7 253.2 2120.4 253.2 2124.1 253.2 2127.7 249.6 2131.4 245.9 2135.1 242.2 2138.7 245.9 2142.4 249.6 2146.1 253.2 2149.7 253.2 2153.4 253.2 2157.1 253.2 2160.8 253.2 2164.4 253.2 2168.1 253.2 2171.8 256.9 2175.4 260.6 2179.1 264.2 2182.8 271.6 2186.4 275.2 2190.1 282.6 2193.8 286.3 2197.5 293.6 2201.1 300.9 2204.8 304.6 2208.5 311.9 2212.1 319.3 2215.8 326.6 2219.5 334 2223.1 337.6 2226.8 348.6 2230.5 356 2234.2 363.3 2237.8 370.7 2241.5 378 2245.2 381.7 2248.8 389 2252.5 396.4 2256.2 403.7 2259.8 414.7 2263.5 422.1 2267.2 429.4 2270.9 436.7 2274.5 447.7 2278.2 451.4 2281.9 458.8 2285.5 462.4 2289.2 466.1 2292.9 473.4"/><path d="M87.2 468.6 90.9 475.9 94.5 479.6 98.2 486.9 101.9 490.6 105.6 497.9 109.2 501.6 112.9 505.3 116.6 508.9 120.2 512.6 123.9 516.3 127.6 516.3 131.2 519.9 134.9 519.9 138.6 519.9 142.3 523.6 145.9 527.3 149.6 530.9 153.3 530.9 156.9 527.3 160.6 527.3 164.3 523.6 167.9 519.9 171.6 519.9 175.3 516.3 179 516.3 182.6 512.6 186.3 508.9 190 505.3 193.6 505.3 197.3 497.9 201 490.6 204.6 483.2 208.3 479.6 212 472.2 215.7 464.9 219.3 464.9 223 464.9 226.7 457.6 230.3 450.2 234 439.2 237.7 431.9 241.3 424.5 245 413.5 248.7 406.2 252.4 398.8 256 391.5 259.7 384.1 263.4 376.8 267 369.5 270.7 358.5 274.4 351.1 278 343.8 281.7 336.4 285.4 329.1 289.1 321.8 292.7 318.1 296.4 310.8 300.1 303.4 303.7 299.7 307.4 292.4 311.1 285.1 314.7 281.4 318.4 274.1 322.1 270.4 325.8 266.7 329.4 263 333.1 259.4 336.8 255.7 340.4 255.7 344.1 252 347.8 252 351.4 252 355.1 252 358.8 252 362.5 248.4 366.1 248.4 369.8 244.7 373.5 241 377.1 248.4 380.8 248.4 384.5 252 388.1 252 391.8 252 395.5 252 399.2 252 402.8 252 406.5 252 410.2 255.7 413.8 259.4 417.5 266.7 421.2 270.4 424.8 277.7 428.5 281.4 432.2 288.7 435.9 292.4 439.5 299.7 443.2 307.1 446.9 314.4 450.5 321.8 454.2 325.4 457.9 332.8 461.5 340.1 465.2 347.4 468.9 358.5 472.6 365.8 476.2 373.1 479.9 376.8 483.6 384.1 487.2 387.8 490.9 398.8 494.6 406.2 498.2 413.5 501.9 424.5 505.6 431.9 509.3 439.2 512.9 446.5 516.6 453.9 520.3 457.6 523.9 461.2 527.6 468.6 531.3 472.2 534.9 479.6 538.6 486.9 542.3 490.6 546 497.9 549.6 501.6 553.3 505.3 557 508.9 560.6 512.6 564.3 516.3 568 516.3 571.6 519.9 575.3 519.9 579 519.9 582.7 523.6 586.3 527.3 590 530.9 593.7 530.9 597.3 530.9 601 527.3 604.7 523.6 608.3 523.6 612 519.9 615.7 519.9 619.4 516.3 623 512.6 626.7 508.9 630.4 505.3 634 505.3 637.7 497.9 641.4 490.6 645 483.2 648.7 479.6 652.4 472.2 656.1 464.9 659.7 464.9 663.4 464.9 667.1 457.6 670.7 450.2 674.4 442.9 678.1 431.9 681.7 424.5 685.4 417.2 689.1 406.2 692.8 398.8 696.4 391.5 700.1 384.1 703.8 376.8 707.4 369.5 711.1 362.1 714.8 351.1 718.4 343.8 722.1 336.4 725.8 329.1 729.5 321.8 733.1 318.1 736.8 310.8 740.5 307.1 744.1 299.7 747.8 292.4 751.5 285.1 755.1 281.4 758.8 274.1 762.5 270.4 766.2 266.7 769.8 263 773.5 259.4 777.2 255.7 780.8 255.7 784.5 252 788.2 252 791.8 252 795.5 252 799.2 252 802.9 248.4 806.5 248.4 810.2 244.7 813.9 241 817.5 244.7 821.2 248.4 824.9 252 828.5 252 832.2 252 835.9 252 839.6 252 843.2 252 846.9 252 850.6 255.7 854.2 259.4 857.9 263 861.6 270.4 865.2 277.7 868.9 281.4 872.6 288.7 876.3 292.4 879.9 299.7 883.6 307.1 887.3 314.4 890.9 321.8 894.6 325.4 898.3 332.8 901.9 340.1 905.6 347.4 909.3 358.5 913 365.8 916.6 373.1 920.3 376.8 924 384.1 927.6 387.8 931.3 398.8 935 406.2 938.6 413.5 942.3 420.9 946 431.9 949.7 439.2 953.3 446.5 957 453.9 960.7 457.6 964.3 461.2 968 468.6 971.7 472.2 975.3 479.6 979 486.9 982.7 490.6 986.4 497.9 990 501.6 993.7 505.3 997.4 508.9 1001 512.6 1004.7 516.3 1008.4 516.3 1012 519.9 1015.7 519.9 1019.4 519.9 1023.1 523.6 1026.7 527.3 1030.4 527.3 1034.1 530.9 1037.7 530.9 1041.4 527.3 1045.1 523.6 1048.7 523.6 1052.4 519.9 1056.1 519.9 1059.8 516.3 1063.4 512.6 1067.1 508.9 1070.8 505.3 1074.4 505.3 1078.1 497.9 1081.8 490.6 1085.4 483.2 1089.1 479.6 1092.8 472.2 1096.5 468.6 1100.1 464.9 1103.8 464.9 1107.5 461.2 1111.1 450.2 1114.8 442.9 1118.5 431.9 1122.1 424.5 1125.8 417.2 1129.5 406.2 1133.2 398.8 1136.8 391.5 1140.5 387.8 1144.2 380.5 1147.8 369.5 1151.5 362.1 1155.2 351.1 1158.8 343.8 1162.5 336.4 1166.2 329.1 1169.9 325.4 1173.5 318.1 1177.2 310.8 1180.9 307.1 1184.5 299.7 1188.2 292.4 1191.9 285.1 1195.5 281.4 1199.2 277.7 1202.9 270.4 1206.6 266.7 1210.2 263 1213.9 259.4 1217.6 255.7 1221.2 255.7 1224.9 252 1228.6 252 1232.2 252 1235.9 252 1239.6 252 1243.3 252 1246.9 248.4 1250.6 244.7 1254.3 241 1257.9 244.7 1261.6 248.4 1265.3 252 1268.9 252 1272.6 252 1276.3 252 1280 252 1283.6 252 1287.3 252 1291 255.7 1294.6 259.4 1298.3 263 1302 270.4 1305.6 277.7 1309.3 281.4 1313 288.7 1316.7 292.4 1320.3 299.7 1324 307.1 1327.7 314.4 1331.3 318.1 1335 325.4 1338.7 332.8 1342.3 340.1 1346 347.4 1349.7 354.8 1353.4 362.1 1357 369.5 1360.7 376.8 1364.4 384.1 1368 387.8 1371.7 395.2 1375.4 406.2 1379 413.5 1382.7 420.9 1386.4 428.2 1390.1 439.2 1393.7 446.5 1397.4 453.9 1401.1 457.6 1404.7 461.2 1408.4 464.9 1412.1 472.2 1415.7 479.6 1419.4 486.9 1423.1 490.6 1426.8 494.2 1430.4 501.6 1434.1 505.3 1437.8 508.9 1441.4 512.6 1445.1 516.3 1448.8 516.3 1452.4 519.9 1456.1 519.9 1459.8 519.9 1463.5 523.6 1467.1 527.3 1470.8 527.3 1474.5 530.9 1478.1 530.9 1481.8 527.3 1485.5 523.6 1489.1 523.6 1492.8 519.9 1496.5 519.9 1500.2 516.3 1503.8 512.6 1507.5 508.9 1511.2 505.3 1514.8 505.3 1518.5 501.6 1522.2 490.6 1525.8 483.2 1529.5 479.6 1533.2 472.2 1536.9 468.6 1540.5 464.9 1544.2 464.9 1547.9 461.2 1551.5 450.2 1555.2 442.9 1558.9 435.5 1562.5 424.5 1566.2 417.2 1569.9 406.2 1573.6 398.8 1577.2 391.5 1580.9 387.8 1584.6 380.5 1588.2 373.1 1591.9 362.1 1595.6 351.1 1599.2 343.8 1602.9 336.4 1606.6 329.1 1610.3 325.4 1613.9 318.1 1617.6 310.8 1621.3 307.1 1624.9 299.7 1628.6 292.4 1632.3 285.1 1635.9 281.4 1639.6 277.7 1643.3 270.4 1647 266.7 1650.6 263 1654.3 259.4 1658 255.7 1661.6 255.7 1665.3 252 1669 252 1672.6 252 1676.3 252 1680 252 1683.7 252 1687.3 248.4 1691 244.7 1694.7 241 1698.3 244.7 1702 248.4 1705.7 252 1709.3 252 1713 252 1716.7 252 1720.4 252 1724 252 1727.7 252 1731.4 255.7 1735 259.4 1738.7 263 1742.4 270.4 1746 277.7 1749.7 281.4 1753.4 288.7 1757.1 292.4 1760.7 299.7 1764.4 307.1 1768.1 310.8 1771.7 318.1 1775.4 325.4 1779.1 332.8 1782.7 340.1 1786.4 347.4 1790.1 354.8 1793.8 362.1 1797.4 369.5 1801.1 376.8 1804.8 384.1 1808.4 387.8 1812.1 395.2 1815.8 402.5 1819.4 413.5 1823.1 420.9 1826.8 428.2 1830.5 435.5 1834.1 446.5 1837.8 453.9 1841.5 457.6 1845.1 461.2 1848.8 464.9 1852.5 472.2 1856.1 479.6 1859.8 483.2 1863.5 490.6 1867.2 494.2 1870.8 501.6 1874.5 505.3 1878.2 508.9 1881.8 512.6 1885.5 512.6 1889.2 516.3 1892.8 519.9 1896.5 519.9 1900.2 519.9 1903.9 523.6 1907.5 527.3 1911.2 527.3 1914.9 530.9 1918.5 530.9 1922.2 527.3 1925.9 523.6 1929.5 523.6 1933.2 519.9 1936.9 519.9 1940.6 516.3 1944.2 512.6 1947.9 508.9 1951.6 505.3 1955.2 505.3 1958.9 501.6 1962.6 490.6 1966.2 483.2 1969.9 479.6 1973.6 475.9 1977.3 468.6 1980.9 464.9 1984.6 464.9 1988.3 461.2 1991.9 453.9 1995.6 442.9 1999.3 435.5 2002.9 428.2 2006.6 417.2 2010.3 409.8 2014 398.8 2017.6 395.2 2021.3 387.8 2025 380.5 2028.6 373.1 2032.3 362.1 2036 354.8 2039.6 343.8 2043.3 336.4 2047 332.8 2050.7 325.4 2054.3 318.1 2058 314.4 2061.7 307.1 2065.3 299.7 2069 292.4 2072.7 288.7 2076.3 281.4 2080 277.7 2083.7 270.4 2087.4 266.7 2091 263 2094.7 259.4 2098.4 259.4 2102 255.7 2105.7 252 2109.4 252 2113 252 2116.7 252 2120.4 252 2124.1 252 2127.7 248.4 2131.4 244.7 2135.1 241 2138.7 244.7 2142.4 248.4 2146.1 252 2149.7 252 2153.4 252 2157.1 252 2160.8 252 2164.4 252 2168.1 252 2171.8 255.7 2175.4 259.4 2179.1 263 2182.8 270.4 2186.4 274.1 2190.1 281.4 2193.8 285.1 2197.5 292.4 2201.1 299.7 2204.8 303.4 2208.5 310.8 2212.1 318.1 2215.8 325.4 2219.5 332.8 2223.1 336.4 2226.8 347.4 2230.5 354.8 2234.2 362.1 2237.8 369.5 2241.5 376.8 2245.2 380.5 2248.8 387.8 2252.5 395.2 2256.2 402.5 2259.8 413.5 2263.5 420.9 2267.2 428.2 2270.9 435.5 2274.5 446.5 2278.2 450.2 2281.9 457.6 2285.5 461.2 2289.2 464.9 2292.9 472.2"/><path d="M87.2 471 90.9 478.3 94.5 482 98.2 489.3 101.9 493 105.6 500.3 109.2 504 112.9 507.7 116.6 511.3 120.2 515 123.9 518.7 127.6 518.7 131.2 522.3 134.9 522.3 138.6 522.3 142.3 526 145.9 529.7 149.6 533.4 153.3 533.4 156.9 529.7 160.6 529.7 164.3 526 167.9 522.3 171.6 522.3 175.3 518.7 179 518.7 182.6 515 186.3 511.3 190 507.7 193.6 507.7 197.3 500.3 201 493 204.6 485.6 208.3 482 212 474.6 215.7 467.3 219.3 467.3 223 467.3 226.7 459.9 230.3 452.6 234 441.6 237.7 434.3 241.3 426.9 245 415.9 248.7 408.6 252.4 401.2 256 393.9 259.7 386.5 263.4 379.2 267 371.9 270.7 360.9 274.4 353.5 278 346.2 281.7 338.8 285.4 331.5 289.1 324.2 292.7 320.5 296.4 313.1 300.1 305.8 303.7 302.1 307.4 294.8 311.1 287.5 314.7 283.8 318.4 276.4 322.1 272.8 325.8 269.1 329.4 265.4 333.1 261.8 336.8 258.1 340.4 258.1 344.1 254.4 347.8 254.4 351.4 254.4 355.1 254.4 358.8 254.4 362.5 250.8 366.1 250.8 369.8 247.1 373.5 243.4 377.1 250.8 380.8 250.8 384.5 254.4 388.1 254.4 391.8 254.4 395.5 254.4 399.2 254.4 402.8 254.4 406.5 254.4 410.2 258.1 413.8 261.8 417.5 269.1 421.2 272.8 424.8 280.1 428.5 283.8 432.2 291.1 435.9 294.8 439.5 302.1 443.2 309.5 446.9 316.8 450.5 324.2 454.2 327.8 457.9 335.2 461.5 342.5 465.2 349.8 468.9 360.9 472.6 368.2 476.2 375.5 479.9 379.2 483.6 386.5 487.2 390.2 490.9 401.2 494.6 408.6 498.2 415.9 501.9 426.9 505.6 434.3 509.3 441.6 512.9 448.9 516.6 456.3 520.3 459.9 523.9 463.6 527.6 471 531.3 474.6 534.9 482 538.6 489.3 542.3 493 546 500.3 549.6 504 553.3 507.7 557 511.3 560.6 515 564.3 518.7 568 518.7 571.6 522.3 575.3 522.3 579 522.3 582.7 526 586.3 529.7 590 533.4 593.7 533.4 597.3 533.4 601 529.7 604.7 526 608.3 526 612 522.3 615.7 522.3 619.4 518.7 623 515 626.7 511.3 630.4 507.7 634 507.7 637.7 500.3 641.4 493 645 485.6 648.7 482 652.4 474.6 656.1 467.3 659.7 467.3 663.4 467.3 667.1 459.9 670.7 452.6 674.4 445.3 678.1 434.3 681.7 426.9 685.4 419.6 689.1 408.6 692.8 401.2 696.4 393.9 700.1 386.5 703.8 379.2 707.4 371.9 711.1 364.5 714.8 353.5 718.4 346.2 722.1 338.8 725.8 331.5 729.5 324.2 733.1 320.5 736.8 313.1 740.5 309.5 744.1 302.1 747.8 294.8 751.5 287.5 755.1 283.8 758.8 276.4 762.5 272.8 766.2 269.1 769.8 265.4 773.5 261.8 777.2 258.1 780.8 258.1 784.5 254.4 788.2 254.4 791.8 254.4 795.5 254.4 799.2 254.4 802.9 250.8 806.5 250.8 810.2 247.1 813.9 243.4 817.5 247.1 821.2 250.8 824.9 254.4 828.5 254.4 832.2 254.4 835.9 254.4 839.6 254.4 843.2 254.4 846.9 254.4 850.6 258.1 854.2 261.8 857.9 265.4 861.6 272.8 865.2 280.1 868.9 283.8 872.6 291.1 876.3 294.8 879.9 302.1 883.6 309.5 887.3 316.8 890.9 324.2 894.6 327.8 898.3 335.2 901.9 342.5 905.6 349.8 909.3 360.9 913 368.2 916.6 375.5 920.3 379.2 924 386.5 927.6 390.2 931.3 401.2 935 408.6 938.6 415.9 942.3 423.2 946 434.3 949.7 441.6 953.3 448.9 957 456.3 960.7 459.9 964.3 463.6 968 471 971.7 474.6 975.3 482 979 489.3 982.7 493 986.4 500.3 990 504 993.7 507.7 997.4 511.3 1001 515 1004.7 518.7 1008.4 518.7 1012 522.3 1015.7 522.3 1019.4 522.3 1023.1 526 1026.7 529.7 1030.4 529.7 1034.1 533.4 1037.7 533.4 1041.4 529.7 1045.1 526 1048.7 526 1052.4 522.3 1056.1 522.3 1059.8 518.7 1063.4 515 1067.1 511.3 1070.8 507.7 1074.4 507.7 1078.1 500.3 1081.8 493 1085.4 485.6 1089.1 482 1092.8 474.6 1096.5 471 1100.1 467.3 1103.8 467.3 1107.5 463.6 1111.1 452.6 1114.8 445.3 1118.5 434.3 1122.1 426.9 1125.8 419.6 1129.5 408.6 1133.2 401.2 1136.8 393.9 1140.5 390.2 1144.2 382.9 1147.8 371.9 1151.5 364.5 1155.2 353.5 1158.8 346.2 1162.5 338.8 1166.2 331.5 1169.9 327.8 1173.5 320.5 1177.2 313.1 1180.9 309.5 1184.5 302.1 1188.2 294.8 1191.9 287.5 1195.5 283.8 1199.2 280.1 1202.9 272.8 1206.6 269.1 1210.2 265.4 1213.9 261.8 1217.6 258.1 1221.2 258.1 1224.9 254.4 1228.6 254.4 1232.2 254.4 1235.9 254.4 1239.6 254.4 1243.3 254.4 1246.9 250.8 1250.6 247.1 1254.3 243.4 1257.9 247.1 1261.6 250.8 1265.3 254.4 1268.9 254.4 1272.6 254.4 1276.3 254.4 1280 254.4 1283.6 254.4 1287.3 254.4 1291 258.1 1294.6 261.8 1298.3 265.4 1302 272.8 1305.6 280.1 1309.3 283.8 1313 291.1 1316.7 294.8 1320.3 302.1 1324 309.5 1327.7 316.8 1331.3 320.5 1335 327.8 1338.7 335.2 1342.3 342.5 1346 349.8 1349.7 357.2 1353.4 364.5 1357 371.9 1360.7 379.2 1364.4 386.5 1368 390.2 1371.7 397.6 1375.4 408.6 1379 415.9 1382.7 423.2 1386.4 430.6 1390.1 441.6 1393.7 448.9 1397.4 456.3 1401.1 459.9 1404.7 463.6 1408.4 467.3 1412.1 474.6 1415.7 482 1419.4 489.3 1423.1 493 1426.8 496.6 1430.4 504 1434.1 507.7 1437.8 511.3 1441.4 515 1445.1 518.7 1448.8 518.7 1452.4 522.3 1456.1 522.3 1459.8 522.3 1463.5 526 1467.1 529.7 1470.8 529.7 1474.5 533.4 1478.1 533.4 1481.8 529.7 1485.5 526 1489.1 526 1492.8 522.3 1496.5 522.3 1500.2 518.7 1503.8 515 1507.5 511.3 1511.2 507.7 1514.8 507.7 1518.5 504 1522.2 493 1525.8 485.6 1529.5 482 1533.2 474.6 1536.9 471 1540.5 467.3 1544.2 467.3 1547.9 463.6 1551.5 452.6 1555.2 445.3 1558.9 437.9 1562.5 426.9 1566.2 419.6 1569.9 408.6 1573.6 401.2 1577.2 393.9 1580.9 390.2 1584.6 382.9 1588.2 375.5 1591.9 364.5 1595.6 353.5 1599.2 346.2 1602.9 338.8 1606.6 331.5 1610.3 327.8 1613.9 320.5 1617.6 313.1 1621.3 309.5 1624.9 302.1 1628.6 294.8 1632.3 287.5 1635.9 283.8 1639.6 280.1 1643.3 272.8 1647 269.1 1650.6 265.4 1654.3 261.8 1658 258.1 1661.6 258.1 1665.3 254.4 1669 254.4 1672.6 254.4 1676.3 254.4 1680 254.4 1683.7 254.4 1687.3 250.8 1691 247.1 1694.7 243.4 1698.3 247.1 1702 250.8 1705.7 254.4 1709.3 254.4 1713 254.4 1716.7 254.4 1720.4 254.4 1724 254.4 1727.7 254.4 1731.4 258.1 1735 261.8 1738.7 265.4 1742.4 272.8 1746 280.1 1749.7 283.8 1753.4 291.1 1757.1 294.8 1760.7 302.1 1764.4 309.5 1768.1 313.1 1771.7 320.5 1775.4 327.8 1779.1 335.2 1782.7 342.5 1786.4 349.8 1790.1 357.2 1793.8 364.5 1797.4 371.9 1801.1 379.2 1804.8 386.5 1808.4 390.2 1812.1 397.6 1815.8 404.9 1819.4 415.9 1823.1 423.2 1826.8 430.6 1830.5 437.9 1834.1 448.9 1837.8 456.3 1841.5 459.9 1845.1 463.6 1848.8 467.3 1852.5 474.6 1856.1 482 1859.8 485.6 1863.5 493 1867.2 496.6 1870.8 504 1874.5 507.7 1878.2 511.3 1881.8 515 1885.5 515 1889.2 518.7 1892.8 522.3 1896.5 522.3 1900.2 522.3 1903.9 526 1907.5 529.7 1911.2 529.7 1914.9 533.4 1918.5 533.4 1922.2 529.7 1925.9 526 1929.5 526 1933.2 522.3 1936.9 522.3 1940.6 518.7 1944.2 515 1947.9 511.3 1951.6 507.7 1955.2 507.7 1958.9 504 1962.6 493 1966.2 485.6 1969.9 482 1973.6 478.3 1977.3 471 1980.9 467.3 1984.6 467.3 1988.3 463.6 1991.9 456.3 1995.6 445.3 1999.3 437.9 2002.9 430.6 2006.6 419.6 2010.3 412.2 2014 401.2 2017.6 397.6 2021.3 390.2 2025 382.9 2028.6 375.5 2032.3 364.5 2036 357.2 2039.6 346.2 2043.3 338.8 2047 335.2 2050.7 327.8 2054.3 320.5 2058 316.8 2061.7 309.5 2065.3 302.1 2069 294.8 2072.7 291.1 2076.3 283.8 2080 280.1 2083.7 272.8 2087.4 269.1 2091 265.4 2094.7 261.8 2098.4 261.8 2102 258.1 2105.7 254.4 2109.4 254.4 2113 254.4 2116.7 254.4 2120.4 254.4 2124.1 254.4 2127.7 250.8 2131.4 247.1 2135.1 243.4 2138.7 247.1 2142.4 250.8 2146.1 254.4 2149.7 254.4 2153.4 254.4 2157.1 254.4 2160.8 254.4 2164.4 254.4 2168.1 254.4 2171.8 258.1 2175.4 261.8 2179.1 265.4 2182.8 272.8 2186.4 276.4 2190.1 283.8 2193.8 287.5 2197.5 294.8 2201.1 302.1 2204.8 305.8 2208.5 313.1 2212.1 320.5 2215.8 327.8 2219.5 335.2 2223.1 338.8 2226.8 349.8 2230.5 357.2 2234.2 364.5 2237.8 371.9 2241.5 379.2 2245.2 382.9 2248.8 390.2 2252.5 397.6 2256.2 404.9 2259.8 415.9 2263.5 423.2 2267.2 430.6 2270.9 437.9 2274.5 448.9 2278.2 452.6 2281.9 459.9 2285.5 463.6 2289.2 467.3 2292.9 474.6"/></g>
<path d="M-82.2 145.5h26M-298.2 624h26M358.5 145.5h26M142.5 624h26M799.2 145.5h26M583.2 624h26M1239.9 145.5h26M1023.9 624h26M1680.6 145.5h26M1464.6 624h26M2121.3 145.5h26M1905.3 624h26M2562 145.5h26M2346 624h26" fill="none" stroke="#0b585d" stroke-width="8.5" stroke-linecap="round"/>
<path d="M87.2 1145 90.9 1145 94.5 1141.4 98.2 1141.4 101.9 1137.7 105.6 1137.7 109.2 1134 112.9 1134 116.6 1134 120.2 1130.4 123.9 1126.7 127.6 1123 131.2 1119.3 134.9 1112 138.6 1112 142.3 1108.3 145.9 1104.7 149.6 1101 153.3 1093.7 156.9 1086.3 160.6 1082.7 164.3 1075.3 167.9 1068 171.6 1064.3 175.3 1060.6 179 1053.3 182.6 1046 186.3 1038.6 190 1034.9 193.6 1031.3 197.3 1023.9 201 1016.6 204.6 1009.2 208.3 1001.9 212 994.6 215.7 987.2 219.3 979.9 223 968.9 226.7 961.5 230.3 954.2 234 946.9 237.7 935.9 241.3 932.2 245 921.2 248.7 913.8 252.4 906.5 256 902.8 259.7 891.8 263.4 888.1 267 877.1 270.7 873.5 274.4 866.1 278 858.8 281.7 855.1 285.4 847.8 289.1 836.8 292.7 829.4 296.4 822.1 300.1 814.7 303.7 807.4 307.4 800.1 311.1 796.4 314.7 792.7 318.4 789 322.1 785.4 325.8 781.7 329.4 785.4 333.1 781.7 336.8 778 340.4 781.7 344.1 781.7 347.8 781.7 351.4 781.7 355.1 785.4 358.8 792.7 362.5 792.7 366.1 796.4 369.8 803.7 373.5 807.4 377.1 811.1 380.8 818.4 384.5 822.1 388.1 825.8 391.8 833.1 395.5 840.4 399.2 847.8 402.8 851.4 406.5 858.8 410.2 866.1 413.8 877.1 417.5 880.8 421.2 888.1 424.8 895.5 428.5 906.5 432.2 910.2 435.9 917.5 439.5 924.8 443.2 932.2 446.9 939.5 450.5 946.9 454.2 957.9 457.9 965.2 461.5 972.5 465.2 979.9 468.9 994.6 472.6 1005.6 476.2 1012.9 479.9 1023.9 483.6 1027.6 487.2 1042.3 490.9 1049.6 494.6 1057 498.2 1068 501.9 1071.6 505.6 1075.3 509.3 1086.3 512.9 1093.7 516.6 1101 520.3 1108.3 523.9 1115.7 527.6 1119.3 531.3 1130.4 534.9 1134 538.6 1141.4 542.3 1145 546 1145 549.6 1145 553.3 1148.7 557 1148.7 560.6 1148.7 564.3 1152.4 568 1145 571.6 1148.7 575.3 1145 579 1145 582.7 1141.4 586.3 1137.7 590 1134 593.7 1126.7 597.3 1123 601 1119.3 604.7 1115.7 608.3 1115.7 612 1108.3 615.7 1104.7 619.4 1097.3 623 1090 626.7 1086.3 630.4 1079 634 1071.6 637.7 1064.3 641.4 1057 645 1049.6 648.7 1042.3 652.4 1034.9 656.1 1027.6 659.7 1023.9 663.4 1012.9 667.1 1005.6 670.7 1001.9 674.4 994.6 678.1 983.6 681.7 976.2 685.4 972.5 689.1 961.5 692.8 954.2 696.4 943.2 700.1 928.5 703.8 917.5 707.4 906.5 711.1 899.1 714.8 888.1 718.4 880.8 722.1 873.5 725.8 866.1 729.5 862.4 733.1 855.1 736.8 844.1 740.5 840.4 744.1 833.1 747.8 825.8 751.5 822.1 755.1 811.1 758.8 803.7 762.5 803.7 766.2 800.1 769.8 796.4 773.5 796.4 777.2 792.7 780.8 792.7 784.5 789 788.2 789 791.8 789 795.5 789 799.2 792.7 802.9 796.4 806.5 796.4 810.2 796.4 813.9 803.7 817.5 807.4 821.2 811.1 824.9 814.7 828.5 818.4 832.2 818.4 835.9 822.1 839.6 822.1 843.2 825.8 846.9 829.4 850.6 833.1 854.2 840.4 857.9 844.1 861.6 851.4 865.2 855.1 868.9 866.1 872.6 869.8 876.3 873.5 879.9 877.1 883.6 884.5 887.3 888.1 890.9 891.8 894.6 899.1 898.3 906.5 901.9 913.8 905.6 921.2 909.3 928.5 913 939.5 916.6 950.5 920.3 954.2 924 961.5 927.6 972.5 931.3 983.6 935 990.9 938.6 1001.9 942.3 1012.9 946 1020.3 949.7 1027.6 953.3 1038.6 957 1046 960.7 1053.3 964.3 1064.3 968 1071.6 971.7 1079 975.3 1086.3 979 1093.7 982.7 1101 986.4 1104.7 990 1108.3 993.7 1112 997.4 1119.3 1001 1123 1004.7 1126.7 1008.4 1130.4 1012 1134 1015.7 1134 1019.4 1134 1023.1 1134 1026.7 1134 1030.4 1134 1034.1 1134 1037.7 1134 1041.4 1130.4 1045.1 1126.7 1048.7 1126.7 1052.4 1123 1056.1 1119.3 1059.8 1115.7 1063.4 1112 1067.1 1112 1070.8 1108.3 1074.4 1108.3 1078.1 1104.7 1081.8 1101 1085.4 1101 1089.1 1093.7 1092.8 1093.7 1096.5 1090 1100.1 1082.7 1103.8 1075.3 1107.5 1068 1111.1 1064.3 1114.8 1053.3 1118.5 1049.6 1122.1 1046 1125.8 1042.3 1129.5 1034.9 1133.2 1031.3 1136.8 1023.9 1140.5 1016.6 1144.2 1009.2 1147.8 998.2 1151.5 990.9 1155.2 983.6 1158.8 972.5 1162.5 961.5 1166.2 954.2 1169.9 939.5 1173.5 932.2 1177.2 921.2 1180.9 913.8 1184.5 906.5 1188.2 895.5 1191.9 884.5 1195.5 880.8 1199.2 869.8 1202.9 862.4 1206.6 858.8 1210.2 847.8 1213.9 844.1 1217.6 836.8 1221.2 833.1 1224.9 825.8 1228.6 818.4 1232.2 814.7 1235.9 811.1 1239.6 807.4 1243.3 803.7 1246.9 796.4 1250.6 792.7 1254.3 792.7 1257.9 792.7 1261.6 789 1265.3 789 1268.9 792.7 1272.6 789 1276.3 789 1280 789 1283.6 792.7 1287.3 789 1291 796.4 1294.6 796.4 1298.3 796.4 1302 803.7 1305.6 807.4 1309.3 811.1 1313 814.7 1316.7 822.1 1320.3 825.8 1324 829.4 1327.7 833.1 1331.3 840.4 1335 844.1 1338.7 851.4 1342.3 855.1 1346 862.4 1349.7 869.8 1353.4 877.1 1357 880.8 1360.7 888.1 1364.4 895.5 1368 906.5 1371.7 913.8 1375.4 921.2 1379 932.2 1382.7 939.5 1386.4 950.5 1390.1 954.2 1393.7 965.2 1397.4 972.5 1401.1 987.2 1404.7 998.2 1408.4 1001.9 1412.1 1012.9 1415.7 1027.6 1419.4 1038.6 1423.1 1049.6 1426.8 1060.6 1430.4 1068 1434.1 1079 1437.8 1086.3 1441.4 1093.7 1445.1 1093.7 1448.8 1101 1452.4 1104.7 1456.1 1112 1459.8 1112 1463.5 1115.7 1467.1 1123 1470.8 1123 1474.5 1126.7 1478.1 1126.7 1481.8 1134 1485.5 1137.7 1489.1 1137.7 1492.8 1137.7 1496.5 1137.7 1500.2 1137.7 1503.8 1134 1507.5 1134 1511.2 1134 1514.8 1130.4 1518.5 1130.4 1522.2 1126.7 1525.8 1123 1529.5 1119.3 1533.2 1119.3 1536.9 1115.7 1540.5 1112 1544.2 1108.3 1547.9 1108.3 1551.5 1104.7 1555.2 1097.3 1558.9 1097.3 1562.5 1090 1566.2 1086.3 1569.9 1079 1573.6 1071.6 1577.2 1064.3 1580.9 1060.6 1584.6 1053.3 1588.2 1046 1591.9 1038.6 1595.6 1031.3 1599.2 1023.9 1602.9 1012.9 1606.6 1009.2 1610.3 998.2 1613.9 987.2 1617.6 979.9 1621.3 968.9 1624.9 954.2 1628.6 943.2 1632.3 935.9 1635.9 921.2 1639.6 910.2 1643.3 902.8 1647 891.8 1650.6 884.5 1654.3 873.5 1658 866.1 1661.6 858.8 1665.3 851.4 1669 847.8 1672.6 844.1 1676.3 836.8 1680 833.1 1683.7 825.8 1687.3 825.8 1691 822.1 1694.7 818.4 1698.3 814.7 1702 814.7 1705.7 807.4 1709.3 807.4 1713 807.4 1716.7 803.7 1720.4 803.7 1724 803.7 1727.7 800.1 1731.4 803.7 1735 807.4 1738.7 803.7 1742.4 803.7 1746 803.7 1749.7 807.4 1753.4 807.4 1757.1 807.4 1760.7 807.4 1764.4 811.1 1768.1 814.7 1771.7 811.1 1775.4 811.1 1779.1 814.7 1782.7 818.4 1786.4 818.4 1790.1 825.8 1793.8 829.4 1797.4 836.8 1801.1 847.8 1804.8 851.4 1808.4 855.1 1812.1 866.1 1815.8 873.5 1819.4 877.1 1823.1 880.8 1826.8 891.8 1830.5 895.5 1834.1 910.2 1837.8 910.2 1841.5 921.2 1845.1 932.2 1848.8 939.5 1852.5 950.5 1856.1 961.5 1859.8 968.9 1863.5 979.9 1867.2 987.2 1870.8 998.2 1874.5 1005.6 1878.2 1016.6 1881.8 1023.9 1885.5 1031.3 1889.2 1038.6 1892.8 1049.6 1896.5 1057 1900.2 1060.6 1903.9 1071.6 1907.5 1079 1911.2 1079 1914.9 1086.3 1918.5 1093.7 1922.2 1097.3 1925.9 1097.3 1929.5 1101 1933.2 1101 1936.9 1104.7 1940.6 1108.3 1944.2 1112 1947.9 1115.7 1951.6 1119.3 1955.2 1119.3 1958.9 1123 1962.6 1123 1966.2 1126.7 1969.9 1126.7 1973.6 1126.7 1977.3 1126.7 1980.9 1126.7 1984.6 1126.7 1988.3 1126.7 1991.9 1126.7 1995.6 1126.7 1999.3 1123 2002.9 1126.7 2006.6 1119.3 2010.3 1119.3 2014 1115.7 2017.6 1112 2021.3 1108.3 2025 1101 2028.6 1101 2032.3 1090 2036 1082.7 2039.6 1082.7 2043.3 1075.3 2047 1071.6 2050.7 1068 2054.3 1064.3 2058 1057 2061.7 1049.6 2065.3 1049.6 2069 1038.6 2072.7 1031.3 2076.3 1027.6 2080 1020.3 2083.7 1009.2 2087.4 998.2 2091 987.2 2094.7 976.2 2098.4 965.2 2102 954.2 2105.7 946.9 2109.4 935.9 2113 928.5 2116.7 921.2 2120.4 913.8 2124.1 902.8 2127.7 895.5 2131.4 888.1 2135.1 880.8 2138.7 873.5 2142.4 866.1 2146.1 858.8 2149.7 847.8 2153.4 844.1 2157.1 836.8 2160.8 829.4 2164.4 825.8 2168.1 818.4 2171.8 818.4 2175.4 814.7 2179.1 807.4 2182.8 803.7 2186.4 800.1 2190.1 796.4 2193.8 796.4 2197.5 789 2201.1 789 2204.8 789 2208.5 789 2212.1 789 2215.8 789 2219.5 789 2223.1 789 2226.8 789 2230.5 792.7 2234.2 792.7 2237.8 796.4 2241.5 800.1 2245.2 807.4 2248.8 814.7 2252.5 818.4 2256.2 825.8 2259.8 833.1 2263.5 836.8 2267.2 844.1 2270.9 847.8 2274.5 855.1 2278.2 862.4 2281.9 862.4 2285.5 873.5 2289.2 877.1 2292.9 880.8" fill="none" stroke="#625e18" stroke-width="5" stroke-linejoin="round"/>
<path d="M87.2 1031.3 90.9 1027.6 94.5 1027.6 98.2 1023.9 101.9 1020.3 105.6 1012.9 109.2 1009.2 112.9 1005.6 116.6 1001.9 120.2 994.6 123.9 994.6 127.6 990.9 131.2 983.6 134.9 976.2 138.6 972.5 142.3 968.9 145.9 965.2 149.6 961.5 153.3 957.9 156.9 946.9 160.6 946.9 164.3 939.5 167.9 932.2 171.6 924.8 175.3 913.8 179 906.5 182.6 902.8 186.3 895.5 190 891.8 193.6 888.1 197.3 880.8 201 877.1 204.6 866.1 208.3 862.4 212 858.8 215.7 851.4 219.3 851.4 223 844.1 226.7 840.4 230.3 844.1 234 844.1 237.7 844.1 241.3 847.8 245 847.8 248.7 844.1 252.4 840.4 256 844.1 259.7 844.1 263.4 844.1 267 844.1 270.7 844.1 274.4 844.1 278 844.1 281.7 847.8 285.4 847.8 289.1 847.8 292.7 851.4 296.4 851.4 300.1 851.4 303.7 858.8 307.4 858.8 311.1 858.8 314.7 866.1 318.4 869.8 322.1 873.5 325.8 880.8 329.4 884.5 333.1 895.5 336.8 895.5 340.4 902.8 344.1 906.5 347.8 910.2 351.4 917.5 355.1 921.2 358.8 928.5 362.5 932.2 366.1 932.2 369.8 939.5 373.5 943.2 377.1 950.5 380.8 957.9 384.5 961.5 388.1 968.9 391.8 976.2 395.5 979.9 399.2 983.6 402.8 987.2 406.5 990.9 410.2 1001.9 413.8 1001.9 417.5 1009.2 421.2 1016.6 424.8 1020.3 428.5 1027.6 432.2 1023.9 435.9 1034.9 439.5 1038.6 443.2 1046 446.9 1049.6 450.5 1057 454.2 1064.3 457.9 1060.6 461.5 1068 465.2 1071.6 468.9 1075.3 472.6 1075.3 476.2 1075.3 479.9 1079 483.6 1075.3 487.2 1082.7 490.9 1079 494.6 1079 498.2 1079 501.9 1075.3 505.6 1075.3 509.3 1075.3 512.9 1075.3 516.6 1071.6 520.3 1071.6 523.9 1064.3 527.6 1068 531.3 1064.3 534.9 1060.6 538.6 1057 542.3 1053.3 546 1053.3 549.6 1049.6 553.3 1042.3 557 1034.9 560.6 1027.6 564.3 1020.3 568 1020.3 571.6 1012.9 575.3 1009.2 579 1005.6 582.7 1001.9 586.3 998.2 590 994.6 593.7 990.9 597.3 987.2 601 983.6 604.7 979.9 608.3 976.2 612 972.5 615.7 968.9 619.4 961.5 623 957.9 626.7 954.2 630.4 950.5 634 935.8 637.7 939.5 641.4 928.5 645 921.2 648.7 917.5 652.4 910.2 656.1 902.8 659.7 899.1 663.4 888.1 667.1 884.5 670.7 877.1 674.4 877.1 678.1 869.8 681.7 862.4 685.4 858.8 689.1 855.1 692.8 851.4 696.4 847.8 700.1 847.8 703.8 844.1 707.4 844.1 711.1 844.1 714.8 844.1 718.4 844.1 722.1 844.1 725.8 844.1 729.5 847.8 733.1 851.4 736.8 847.8 740.5 858.8 744.1 858.8 747.8 866.1 751.5 869.8 755.1 873.5 758.8 873.5 762.5 873.5 766.2 877.1 769.8 877.1 773.5 873.5 777.2 884.5 780.8 884.5 784.5 891.8 788.2 891.8 791.8 899.1 795.5 902.8 799.2 906.5 802.9 910.2 806.5 913.8 810.2 917.5 813.9 917.5 817.5 921.2 821.2 928.5 824.9 928.5 828.5 935.9 832.2 939.5 835.9 946.9 839.6 950.5 843.2 950.5 846.9 957.9 850.6 961.5 854.2 965.2 857.9 972.5 861.6 976.2 865.2 983.6 868.9 987.2 872.6 998.2 876.3 1005.6 879.9 1009.2 883.6 1016.6 887.3 1020.3 890.9 1020.3 894.6 1027.6 898.3 1034.9 901.9 1034.9 905.6 1042.3 909.3 1042.3 913 1049.6 916.6 1053.3 920.3 1060.6 924 1064.3 927.6 1068 931.3 1071.6 935 1071.6 938.6 1071.6 942.3 1071.6 946 1071.6 949.7 1071.6 953.3 1071.6 957 1068 960.7 1068 964.3 1064.3 968 1060.6 971.7 1057 975.3 1053.3 979 1053.3 982.7 1053.3 986.4 1053.3 990 1049.6 993.7 1053.3 997.4 1049.6 1001 1053.3 1004.7 1049.6 1008.4 1046 1012 1049.6 1015.7 1046 1019.4 1038.6 1023.1 1034.9 1026.7 1023.9 1030.4 1023.9 1034.1 1016.6 1037.7 1016.6 1041.4 1016.6 1045.1 1012.9 1048.7 1009.2 1052.4 1005.6 1056.1 1005.6 1059.8 1001.9 1063.4 998.2 1067.1 990.9 1070.8 990.9 1074.4 987.2 1078.1 979.9 1081.8 972.5 1085.4 968.9 1089.1 957.9 1092.8 954.2 1096.5 946.9 1100.1 939.5 1103.8 935.9 1107.5 928.5 1111.1 917.5 1114.8 910.2 1118.5 906.5 1122.1 899.1 1125.8 895.5 1129.5 888.1 1133.2 884.5 1136.8 877.1 1140.5 873.5 1144.2 866.1 1147.8 862.4 1151.5 858.8 1155.2 855.1 1158.8 851.4 1162.5 851.4 1166.2 847.8 1169.9 847.8 1173.5 847.8 1177.2 851.4 1180.9 847.8 1184.5 851.4 1188.2 851.4 1191.9 851.4 1195.5 851.4 1199.2 855.1 1202.9 858.8 1206.6 855.1 1210.2 858.8 1213.9 862.4 1217.6 858.8 1221.2 862.4 1224.9 862.4 1228.6 858.8 1232.2 858.8 1235.9 858.8 1239.6 858.8 1243.3 858.8 1246.9 862.4 1250.6 862.4 1254.3 862.4 1257.9 866.1 1261.6 873.5 1265.3 880.8 1268.9 888.1 1272.6 891.8 1276.3 899.1 1280 906.5 1283.6 910.2 1287.3 913.8 1291 921.2 1294.6 928.5 1298.3 924.8 1302 935.9 1305.6 939.5 1309.3 943.2 1313 954.2 1316.7 950.5 1320.3 961.5 1324 968.9 1327.7 972.5 1331.3 976.2 1335 979.9 1338.7 983.6 1342.3 994.6 1346 994.6 1349.7 1005.6 1353.4 1009.2 1357 1016.6 1360.7 1020.3 1364.4 1016.6 1368 1031.3 1371.7 1034.9 1375.4 1042.3 1379 1049.6 1382.7 1049.6 1386.4 1053.3 1390.1 1060.6 1393.7 1060.6 1397.4 1064.3 1401.1 1064.3 1404.7 1060.6 1408.4 1064.3 1412.1 1064.3 1415.7 1064.3 1419.4 1064.3 1423.1 1064.3 1426.8 1064.3 1430.4 1060.6 1434.1 1064.3 1437.8 1060.6 1441.4 1057 1445.1 1060.6 1448.8 1060.6 1452.4 1060.6 1456.1 1057 1459.8 1057 1463.5 1057 1467.1 1057 1470.8 1057 1474.5 1060.6 1478.1 1057 1481.8 1057 1485.5 1060.6 1489.1 1053.3 1492.8 1049.6 1496.5 1049.6 1500.2 1042.3 1503.8 1034.9 1507.5 1031.3 1511.2 1023.9 1514.8 1020.3 1518.5 1016.6 1522.2 1012.9 1525.8 1005.6 1529.5 1001.9 1533.2 998.2 1536.9 994.6 1540.5 987.2 1544.2 983.6 1547.9 979.9 1551.5 972.5 1555.2 965.2 1558.9 961.5 1562.5 954.2 1566.2 950.5 1569.9 946.9 1573.6 935.9 1577.2 932.2 1580.9 928.5 1584.6 917.5 1588.2 910.2 1591.9 899.1 1595.6 899.1 1599.2 891.8 1602.9 888.1 1606.6 884.5 1610.3 880.8 1613.9 877.1 1617.6 873.5 1621.3 873.5 1624.9 873.5 1628.6 869.8 1632.3 877.1 1635.9 873.5 1639.6 877.1 1643.3 877.1 1647 877.1 1650.6 873.5 1654.3 877.1 1658 873.5 1661.6 877.1 1665.3 877.1 1669 873.5 1672.6 877.1 1676.3 877.1 1680 877.1 1683.7 877.1 1687.3 873.5 1691 869.8 1694.7 869.8 1698.3 869.8 1702 869.8 1705.7 862.4 1709.3 869.8 1713 869.8 1716.7 873.5 1720.4 869.8 1724 877.1 1727.7 880.8 1731.4 888.1 1735 895.5 1738.7 899.1 1742.4 902.8 1746 910.2 1749.7 913.8 1753.4 917.5 1757.1 921.2 1760.7 928.5 1764.4 932.2 1768.1 935.9 1771.7 939.5 1775.4 946.9 1779.1 954.2 1782.7 954.2 1786.4 961.5 1790.1 968.9 1793.8 972.5 1797.4 976.2 1801.1 983.6 1804.8 987.2 1808.4 994.6 1812.1 1001.9 1815.8 1005.6 1819.4 1016.6 1823.1 1023.9 1826.8 1027.6 1830.5 1031.3 1834.1 1034.9 1837.8 1034.9 1841.5 1038.6 1845.1 1042.3 1848.8 1046 1852.5 1046 1856.1 1049.6 1859.8 1049.6 1863.5 1053.3 1867.2 1053.3 1870.8 1057 1874.5 1057 1878.2 1057 1881.8 1057 1885.5 1057 1889.2 1060.6 1892.8 1060.6 1896.5 1060.6 1900.2 1060.6 1903.9 1060.6 1907.5 1060.6 1911.2 1064.3 1914.9 1060.6 1918.5 1068 1922.2 1064.3 1925.9 1064.3 1929.5 1068 1933.2 1068 1936.9 1068 1940.6 1068 1944.2 1068 1947.9 1068 1951.6 1068 1955.2 1064.3 1958.9 1064.3 1962.6 1057 1966.2 1049.6 1969.9 1042.3 1973.6 1034.9 1977.3 1031.3 1980.9 1020.3 1984.6 1016.6 1988.3 1009.2 1991.9 1005.6 1995.6 998.2 1999.3 998.2 2002.9 994.6 2006.6 990.9 2010.3 990.9 2014 983.6 2017.6 983.6 2021.3 976.2 2025 972.5 2028.6 961.5 2032.3 957.9 2036 950.5 2039.6 943.2 2043.3 932.2 2047 928.5 2050.7 924.8 2054.3 917.5 2058 910.2 2061.7 906.5 2065.3 902.8 2069 902.8 2072.7 899.1 2076.3 895.5 2080 888.1 2083.7 891.8 2087.4 888.1 2091 880.8 2094.7 877.1 2098.4 869.8 2102 866.1 2105.7 862.4 2109.4 862.4 2113 862.4 2116.7 858.8 2120.4 858.8 2124.1 855.1 2127.7 851.4 2131.4 851.4 2135.1 851.4 2138.7 847.8 2142.4 844.1 2146.1 844.1 2149.7 844.1 2153.4 840.4 2157.1 840.4 2160.8 840.4 2164.4 840.4 2168.1 836.8 2171.8 840.4 2175.4 840.4 2179.1 840.4 2182.8 840.4 2186.4 844.1 2190.1 844.1 2193.8 847.8 2197.5 855.1 2201.1 866.1 2204.8 873.5 2208.5 884.5 2212.1 888.1 2215.8 895.5 2219.5 906.5 2223.1 910.2 2226.8 913.8 2230.5 924.8 2234.2 924.8 2237.8 932.2 2241.5 935.9 2245.2 939.5 2248.8 946.9 2252.5 950.5 2256.2 957.9 2259.8 957.9 2263.5 968.9 2267.2 972.5 2270.9 976.2 2274.5 983.6 2278.2 987.2 2281.9 990.9 2285.5 1001.9 2289.2 1001.9 2292.9 1005.6 L2292.9 1020.3 2289.2 1016.6 2285.5 1012.9 2281.9 1005.6 2278.2 1001.9 2274.5 998.2 2270.9 994.6 2267.2 987.2 2263.5 979.9 2259.8 976.2 2256.2 972.5 2252.5 965.2 2248.8 961.5 2245.2 957.9 2241.5 950.5 2237.8 946.9 2234.2 939.5 2230.5 935.9 2226.8 932.2 2223.1 924.8 2219.5 921.2 2215.8 910.2 2212.1 906.5 2208.5 899.1 2204.8 891.8 2201.1 884.5 2197.5 877.1 2193.8 869.8 2190.1 862.4 2186.4 862.4 2182.8 862.4 2179.1 858.8 2175.4 858.8 2171.8 858.8 2168.1 862.4 2164.4 862.4 2160.8 858.8 2157.1 858.8 2153.4 858.8 2149.7 862.4 2146.1 862.4 2142.4 866.1 2138.7 866.1 2135.1 866.1 2131.4 869.8 2127.7 869.8 2124.1 873.5 2120.4 869.8 2116.7 877.1 2113 880.8 2109.4 884.5 2105.7 888.1 2102 888.1 2098.4 891.8 2094.7 891.8 2091 906.5 2087.4 902.8 2083.7 906.5 2080 910.2 2076.3 913.8 2072.7 917.5 2069 917.5 2065.3 921.2 2061.7 928.5 2058 932.2 2054.3 939.5 2050.7 946.9 2047 946.9 2043.3 954.2 2039.6 965.2 2036 972.5 2032.3 976.2 2028.6 983.6 2025 990.9 2021.3 994.6 2017.6 1001.9 2014 1005.6 2010.3 1009.2 2006.6 1012.9 2002.9 1016.6 1999.3 1016.6 1995.6 1020.3 1991.9 1023.9 1988.3 1027.6 1984.6 1034.9 1980.9 1038.6 1977.3 1046 1973.6 1053.3 1969.9 1060.6 1966.2 1075.3 1962.6 1079 1958.9 1082.7 1955.2 1086.3 1951.6 1086.3 1947.9 1086.3 1944.2 1090 1940.6 1086.3 1936.9 1090 1933.2 1090 1929.5 1090 1925.9 1090 1922.2 1086.3 1918.5 1086.3 1914.9 1086.3 1911.2 1086.3 1907.5 1086.3 1903.9 1082.7 1900.2 1086.3 1896.5 1090 1892.8 1086.3 1889.2 1086.3 1885.5 1082.7 1881.8 1082.7 1878.2 1082.7 1874.5 1082.7 1870.8 1079 1867.2 1079 1863.5 1079 1859.8 1075.3 1856.1 1071.6 1852.5 1075.3 1848.8 1071.6 1845.1 1068 1841.5 1064.3 1837.8 1060.6 1834.1 1060.6 1830.5 1057 1826.8 1053.3 1823.1 1046 1819.4 1042.3 1815.8 1031.3 1812.1 1027.6 1808.4 1016.6 1804.8 1009.2 1801.1 1001.9 1797.4 994.6 1793.8 990.9 1790.1 983.6 1786.4 976.2 1782.7 972.5 1779.1 968.9 1775.4 961.5 1771.7 957.9 1768.1 954.2 1764.4 946.9 1760.7 939.5 1757.1 935.9 1753.4 932.2 1749.7 928.5 1746 924.8 1742.4 928.5 1738.7 917.5 1735 910.2 1731.4 906.5 1727.7 899.1 1724 891.8 1720.4 891.8 1716.7 891.8 1713 899.1 1709.3 888.1 1705.7 891.8 1702 888.1 1698.3 888.1 1694.7 891.8 1691 895.5 1687.3 895.5 1683.7 891.8 1680 891.8 1676.3 891.8 1672.6 899.1 1669 895.5 1665.3 895.5 1661.6 895.5 1658 895.5 1654.3 891.8 1650.6 895.5 1647 895.5 1643.3 895.5 1639.6 895.5 1635.9 891.8 1632.3 895.5 1628.6 891.8 1624.9 895.5 1621.3 895.5 1617.6 899.1 1613.9 899.1 1610.3 899.1 1606.6 906.5 1602.9 910.2 1599.2 910.2 1595.6 917.5 1591.9 921.2 1588.2 924.8 1584.6 932.2 1580.9 939.5 1577.2 943.2 1573.6 954.2 1569.9 957.9 1566.2 965.2 1562.5 968.9 1558.9 972.5 1555.2 983.6 1551.5 990.9 1547.9 990.9 1544.2 1001.9 1540.5 1005.6 1536.9 1005.6 1533.2 1009.2 1529.5 1016.6 1525.8 1020.3 1522.2 1027.6 1518.5 1027.6 1514.8 1034.9 1511.2 1038.6 1507.5 1046 1503.8 1049.6 1500.2 1057 1496.5 1060.6 1492.8 1068 1489.1 1075.3 1485.5 1075.3 1481.8 1075.3 1478.1 1075.3 1474.5 1079 1470.8 1079 1467.1 1082.7 1463.5 1079 1459.8 1079 1456.1 1079 1452.4 1079 1448.8 1079 1445.1 1082.7 1441.4 1082.7 1437.8 1079 1434.1 1082.7 1430.4 1082.7 1426.8 1086.3 1423.1 1086.3 1419.4 1086.3 1415.7 1082.7 1412.1 1086.3 1408.4 1086.3 1404.7 1086.3 1401.1 1082.7 1397.4 1082.7 1393.7 1082.7 1390.1 1082.7 1386.4 1079 1382.7 1071.6 1379 1071.6 1375.4 1068 1371.7 1060.6 1368 1057 1364.4 1053.3 1360.7 1042.3 1357 1034.9 1353.4 1031.3 1349.7 1020.3 1346 1012.9 1342.3 1009.2 1338.7 998.2 1335 994.6 1331.3 990.9 1327.7 983.6 1324 983.6 1320.3 979.9 1316.7 972.5 1313 965.2 1309.3 961.5 1305.6 950.5 1302 950.5 1298.3 943.2 1294.6 939.5 1291 935.9 1287.3 932.2 1283.6 924.8 1280 924.8 1276.3 917.5 1272.6 906.5 1268.9 902.8 1265.3 891.8 1261.6 891.8 1257.9 888.1 1254.3 884.5 1250.6 880.8 1246.9 880.8 1243.3 877.1 1239.6 880.8 1235.9 880.8 1232.2 880.8 1228.6 880.8 1224.9 880.8 1221.2 880.8 1217.6 880.8 1213.9 877.1 1210.2 884.5 1206.6 877.1 1202.9 877.1 1199.2 873.5 1195.5 873.5 1191.9 869.8 1188.2 869.8 1184.5 873.5 1180.9 869.8 1177.2 869.8 1173.5 869.8 1169.9 869.8 1166.2 869.8 1162.5 873.5 1158.8 873.5 1155.2 877.1 1151.5 884.5 1147.8 884.5 1144.2 888.1 1140.5 891.8 1136.8 902.8 1133.2 906.5 1129.5 906.5 1125.8 913.8 1122.1 917.5 1118.5 928.5 1114.8 932.2 1111.1 935.9 1107.5 943.2 1103.8 946.9 1100.1 957.9 1096.5 961.5 1092.8 965.2 1089.1 976.2 1085.4 983.6 1081.8 990.9 1078.1 990.9 1074.4 1001.9 1070.8 1005.6 1067.1 1009.2 1063.4 1012.9 1059.8 1016.6 1056.1 1020.3 1052.4 1020.3 1048.7 1023.9 1045.1 1023.9 1041.4 1027.6 1037.7 1031.3 1034.1 1038.6 1030.4 1042.3 1026.7 1049.6 1023.1 1057 1019.4 1060.6 1015.7 1064.3 1012 1068 1008.4 1068 1004.7 1075.3 1001 1071.6 997.4 1075.3 993.7 1075.3 990 1075.3 986.4 1075.3 982.7 1075.3 979 1079 975.3 1079 971.7 1082.7 968 1086.3 964.3 1086.3 960.7 1090 957 1093.7 953.3 1093.7 949.7 1097.3 946 1101 942.3 1097.3 938.6 1097.3 935 1097.3 931.3 1090 927.6 1090 924 1086.3 920.3 1079 916.6 1075.3 913 1075.3 909.3 1068 905.6 1064.3 901.9 1060.6 898.3 1057 894.6 1053.3 890.9 1046 887.3 1046 883.6 1038.6 879.9 1034.9 876.3 1023.9 872.6 1012.9 868.9 1001.9 865.2 998.2 861.6 994.6 857.9 987.2 854.2 979.9 850.6 976.2 846.9 968.9 843.2 968.9 839.6 961.5 835.9 954.2 832.2 954.2 828.5 946.9 824.9 943.2 821.2 943.2 817.5 939.5 813.9 939.5 810.2 935.9 806.5 932.2 802.9 932.2 799.2 924.8 795.5 921.2 791.8 917.5 788.2 913.8 784.5 906.5 780.8 902.8 777.2 902.8 773.5 902.8 769.8 899.1 766.2 895.5 762.5 902.8 758.8 895.5 755.1 891.8 751.5 891.8 747.8 888.1 744.1 880.8 740.5 877.1 736.8 873.5 733.1 866.1 729.5 869.8 725.8 869.8 722.1 866.1 718.4 866.1 714.8 866.1 711.1 869.8 707.4 869.8 703.8 866.1 700.1 866.1 696.4 869.8 692.8 873.5 689.1 873.5 685.4 880.8 681.7 884.5 678.1 899.1 674.4 895.5 670.7 902.8 667.1 906.5 663.4 913.8 659.7 921.2 656.1 924.8 652.4 932.2 648.7 939.5 645 946.9 641.4 950.5 637.7 957.9 634 961.5 630.4 965.2 626.7 968.9 623 976.2 619.4 979.9 615.7 983.6 612 987.2 608.3 990.9 604.7 994.6 601 998.2 597.3 1001.9 593.7 1005.6 590 1009.2 586.3 1009.2 582.7 1020.3 579 1020.3 575.3 1023.9 571.6 1031.3 568 1034.9 564.3 1042.3 560.6 1049.6 557 1053.3 553.3 1060.6 549.6 1068 546 1071.6 542.3 1079 538.6 1082.7 534.9 1082.7 531.3 1086.3 527.6 1090 523.9 1090 520.3 1093.7 516.6 1093.7 512.9 1101 509.3 1101 505.6 1104.7 501.9 1101 498.2 1104.7 494.6 1104.7 490.9 1104.7 487.2 1104.7 483.6 1101 479.9 1101 476.2 1101 472.6 1101 468.9 1097.3 465.2 1093.7 461.5 1090 457.9 1086.3 454.2 1090 450.5 1079 446.9 1075.3 443.2 1068 439.5 1060.6 435.9 1057 432.2 1053.3 428.5 1046 424.8 1042.3 421.2 1034.9 417.5 1027.6 413.8 1027.6 410.2 1016.6 406.5 1012.9 402.8 1005.6 399.2 998.2 395.5 994.6 391.8 987.2 388.1 983.6 384.5 976.2 380.8 972.5 377.1 961.5 373.5 957.9 369.8 954.2 366.1 946.9 362.5 946.9 358.8 943.2 355.1 935.9 351.4 935.9 347.8 928.5 344.1 921.2 340.4 913.8 336.8 913.8 333.1 906.5 329.4 902.8 325.8 895.5 322.1 891.8 318.4 884.5 314.7 884.5 311.1 884.5 307.4 877.1 303.7 873.5 300.1 873.5 296.4 869.8 292.7 869.8 289.1 866.1 285.4 866.1 281.7 866.1 278 862.4 274.4 862.4 270.7 862.4 267 862.4 263.4 862.4 259.7 866.1 256 862.4 252.4 866.1 248.7 866.1 245 866.1 241.3 862.4 237.7 862.4 234 866.1 230.3 866.1 226.7 866.1 223 869.8 219.3 869.8 215.7 877.1 212 880.8 208.3 884.5 204.6 891.8 201 895.5 197.3 902.8 193.6 906.5 190 913.8 186.3 917.5 182.6 921.2 179 928.5 175.3 935.9 171.6 946.9 167.9 950.5 164.3 965.2 160.6 961.5 156.9 965.2 153.3 976.2 149.6 976.2 145.9 983.6 142.3 983.6 138.6 990.9 134.9 990.9 131.2 998.2 127.6 1005.6 123.9 1005.6 120.2 1012.9 116.6 1016.6 112.9 1020.3 109.2 1023.9 105.6 1031.3 101.9 1031.3 98.2 1038.6 94.5 1042.3 90.9 1046 87.2 1046Z" fill="#0a550c" stroke="#0a550c" stroke-width="1.5" stroke-linejoin="round"/></g>
<!-- header -->
<g id="header">
<text class="mono" x="450" y="78" font-size="44" font-weight="bold" textLength="162" lengthAdjust="spacingAndGlyphs" fill="#111">10k pts</text>
<text class="mono" x="728" y="78" font-size="44" font-weight="bold" textLength="184" lengthAdjust="spacingAndGlyphs" fill="#111">100kSa/s</text>
<rect x="968" y="37.5" width="441" height="41" fill="#fff" stroke="#4a4a4a" stroke-width="4"/>
<path d="M966 37.5H1411" stroke="#9a9a9a" stroke-width="4"/>
<rect x="1077" y="45.5" width="218" height="24.5" fill="#fff" stroke="#a8a8a8" stroke-width="3"/>
<path id="mini" d="M1080.0 56.1 1081.5 57.8 1083.0 59.4 1084.5 60.8 1086.0 61.5 1087.5 61.7 1089.0 61.1 1090.5 59.9 1092.0 58.4 1093.5 56.6 1095.0 55.1 1096.5 53.9 1098.0 53.3 1099.5 53.5 1101.0 54.2 1102.5 55.6 1104.0 57.2 1105.5 58.9 1107.0 60.4 1108.5 61.4 1110.0 61.7 1111.5 61.4 1113.0 60.4 1114.5 58.9 1116.0 57.2 1117.5 55.6 1119.0 54.2 1120.5 53.5 1122.0 53.3 1123.5 53.9 1125.0 55.1 1126.5 56.6 1128.0 58.4 1129.5 59.9 1131.0 61.1 1132.5 61.7 1134.0 61.5 1135.5 60.8 1137.0 59.4 1138.5 57.8 1140.0 56.1 1141.5 54.6 1143.0 53.6 1144.5 53.3 1146.0 53.6 1147.5 54.6 1149.0 56.1 1150.5 57.8 1152.0 59.4 1153.5 60.8 1155.0 61.5 1156.5 61.7 1158.0 61.1 1159.5 59.9 1161.0 58.4 1162.5 56.6 1164.0 55.1 1165.5 53.9 1167.0 53.3 1168.5 53.5 1170.0 54.2 1171.5 55.6 1173.0 57.2 1174.5 58.9 1176.0 60.4 1177.5 61.4 1179.0 61.7 1180.5 61.4 1182.0 60.4 1183.5 58.9 1185.0 57.2 1186.5 55.6 1188.0 54.2 1189.5 53.5 1191.0 53.3 1192.5 53.9 1194.0 55.1 1195.5 56.6 1197.0 58.4 1198.5 59.9 1200.0 61.1 1201.5 61.7 1203.0 61.5 1204.5 60.8 1206.0 59.4 1207.5 57.8 1209.0 56.1 1210.5 54.6 1212.0 53.6 1213.5 53.3 1215.0 53.6 1216.5 54.6 1218.0 56.1 1219.5 57.8 1221.0 59.4 1222.5 60.8 1224.0 61.5 1225.5 61.7 1227.0 61.1 1228.5 59.9 1230.0 58.4 1231.5 56.6 1233.0 55.1 1234.5 53.9 1236.0 53.3 1237.5 53.5 1239.0 54.2 1240.5 55.6 1242.0 57.2 1243.5 58.9 1245.0 60.4 1246.5 61.4 1248.0 61.7 1249.5 61.4 1251.0 60.4 1252.5 58.9 1254.0 57.2 1255.5 55.6 1257.0 54.2 1258.5 53.5 1260.0 53.3 1261.5 53.9 1263.0 55.1 1264.5 56.6 1266.0 58.4 1267.5 59.9 1269.0 61.1 1270.5 61.7 1272.0 61.5 1273.5 60.8 1275.0 59.4 1276.5 57.8 1278.0 56.1 1279.5 54.6 1281.0 53.6 1282.5 53.3 1284.0 53.6 1285.5 54.6 1287.0 56.1 1288.5 57.8 1290.0 59.4 1291.5 60.8 1293.0 61.5" fill="none" stroke="#ff22ff" stroke-width="2.6"/>
<path d="M1181.5 39H1198.5L1190 54Z" fill="#10e0e4"/>
<path d="M1169.5 91H1214.5L1192 116Z" fill="#ff4000"/>
<path d="M1508 79.5H1520.5V47l5.5 -2.5 5.5 4.5 5.5 -4.5 5.5 4.5 5.5 -4.5 5.5 4.5 5.5 -4.5 5 2.5V79.5H1576.5" fill="none" stroke="#58ff9a" stroke-width="5" stroke-linejoin="round"/>
<text class="sans" x="1659" y="74.5" font-size="46.5" font-weight="bold" textLength="95" lengthAdjust="spacingAndGlyphs" fill="#f40a0a">Stop</text>
</g>
<!-- channel markers -->
<g id="markers">
<path d="M28 368.5H73L82.5 384.6L73 400.7H28Z" fill="#ff00ff"/>
<text class="ser" x="51" y="396" font-size="33" font-weight="bold" text-anchor="middle" fill="#fff">3</text>
<path d="M27 954H73L83.5 972.5L73 991H27Z" fill="#fff" stroke="#3dff3d" stroke-width="4.4"/>
<text class="ser" x="52" y="985" font-size="35" font-weight="bold" text-anchor="middle" fill="#08dc08" stroke="#08dc08" stroke-width="1.6">4</text>
<path d="M2294.5 199V240L2271.5 219.6Z" fill="#00f4f6"/>
</g>

<!-- frequency box -->
<g id="freq">
<rect x="1910" y="1217" width="385" height="54" rx="11" fill="#fff" stroke="#3e3e3e" stroke-width="4.4"/>
<rect x="1914" y="1222" width="67" height="44" rx="23" ry="21" fill="#000"/>
<text class="sans" x="1948.5" y="1261.5" font-size="50" font-weight="bold" text-anchor="middle" fill="#fff">F</text>
<text class="mono" x="2030" y="1257" font-size="43" textLength="211" lengthAdjust="spacingAndGlyphs" fill="#111" stroke="#111" stroke-width="1.5">50.0327Hz</text>
</g>

</g>
<!-- labels -->
<g id="labels" fill="#ff0000">
<text class="ser" x="475.8" y="160.3" font-size="104" font-style="italic" textLength="50.1" lengthAdjust="spacingAndGlyphs">v</text>
<text class="ser" x="523.3" y="180.3" font-size="64" font-style="italic">o</text>
<text class="sans" x="586.2 617.3 666.6 716.6 763.7 827.4 857.3 920.6 940.8 987.2" y="160.3" font-size="86">(200V/Div)</text>
<text class="ser" x="1332.6" y="160.5" font-size="98" font-style="italic">i</text>
<text class="ser" x="1363.7" y="180.3" font-size="64" font-style="italic">o</text>
<text class="sans" x="1426.3 1457.9 1505.1 1554.7 1619.9 1650.8 1713.1 1734.0 1778.4" y="160.3" font-size="86">(10A/Div)</text>
<text class="ser" x="389.6" y="769" font-size="104" font-style="italic" textLength="50.1" lengthAdjust="spacingAndGlyphs">v</text>
<text class="ser" x="435.3" y="790.8" font-size="64" font-style="italic" textLength="111.5" lengthAdjust="spacingAndGlyphs">gab</text>
<text class="sans" x="584.3 615.4 664.7 714.7 761.8 825.5 855.4 918.7 938.9 985.3" y="769" font-size="86">(200V/Div)</text>
<text class="ser" x="1587.9" y="770.3" font-size="100" font-style="italic">i</text>
<text class="ser" x="1613.6" y="789.8" font-size="64" font-style="italic" textLength="79" lengthAdjust="spacingAndGlyphs">ga</text>
<text class="sans" x="1723.7 1755.3 1802.5 1852.1 1917.3 1948.2 2010.5 2031.3 2075.8" y="769.3" font-size="86">(10A/Div)</text>
<text class="ser" x="1304" y="1235" font-size="83.6" textLength="602" lengthAdjust="spacingAndGlyphs">Time (10 ms/Div)</text>
</g>
<g id="pointers" stroke="#000" stroke-width="5" stroke-linecap="butt">
<path d="M441.5 246.5L480 173.5"/><circle cx="441.5" cy="246.5" r="12.5" stroke="none"/>
<path d="M1312 293.3L1356 195"/><circle cx="1312" cy="293.3" r="12.5" stroke="none"/>
<path d="M419.8 890L476.5 801.5"/><circle cx="419.8" cy="890" r="12.5" stroke="none"/>
<path d="M1605 891L1629.5 818.5"/><circle cx="1605" cy="891" r="12.5" stroke="none"/>
</g>

</svg></body></html>
